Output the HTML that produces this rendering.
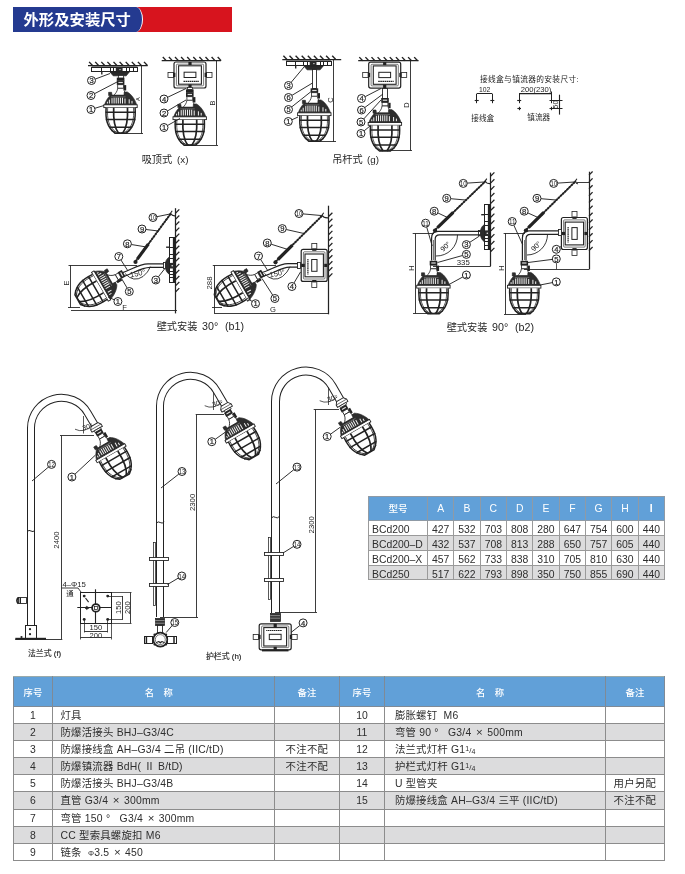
<!DOCTYPE html>
<html lang="zh-CN"><head><meta charset="utf-8"><title>外形及安装尺寸</title>
<style>
html,body{margin:0;padding:0;background:#fff}
body{width:685px;height:874px;position:relative;overflow:hidden;font-family:"Liberation Sans","Noto Sans CJK SC",sans-serif;color:#333}
.banner{position:absolute;left:13px;top:6.5px;width:218.5px;height:25px;background:#d7141e;overflow:hidden}
.banner .blue{position:absolute;left:0;top:0;width:128.5px;height:25px;background:#243a90;border-right:1.6px solid #fff;border-radius:0 7px 7px 0/0 12.5px 12.5px 0}
.banner .tt{position:absolute;left:10.5px;top:1.6px;line-height:24px;font-size:15.3px;font-weight:bold;color:#fff;white-space:nowrap;letter-spacing:.05px}
#page{position:absolute;left:0;top:0;width:685px;height:874px;will-change:transform;opacity:.999}
table{border-collapse:collapse;position:absolute;table-layout:fixed}
td,th{padding:0;overflow:hidden;white-space:nowrap;font-weight:normal}
.dim{left:368px;top:495.5px;width:297px;font-size:10.4px;color:#2e2e2e}
.dim td,.dim th{border:1px solid #9a9a9a;text-align:center}
.dim tr.h th{height:23.6px;background:#61a0d8;color:#fff;font-size:10.4px;border-color:#8f9aa5}
.dim tr.h th.m{font-size:9.6px;font-weight:500;text-align:center;padding-left:0}
.dim td{height:9.85px;line-height:9.85px;padding-top:4px;overflow:visible}
.dim .m{width:58px;text-align:left;padding-left:3px}
.dim tr.g td{background:#dcdcdd}
.parts{left:12.7px;top:676.3px;width:651.9px;font-size:10.4px;color:#2e2e2e}
.parts td,.parts th{border:1px solid #8c8c8c}
.parts tr.h th{height:27.3px;padding-top:1px;font-weight:500;background:#61a0d8;color:#fff;font-size:9.4px;border-color:#7f8a96;border-top-color:#9aa}
.parts td{height:15.15px;line-height:15.15px;padding-top:1px}
.parts tr.g td{background:#dcdcdd}
.parts .n{text-align:center}
.parts th.nm{text-indent:-9px}
.parts .t{padding-left:7.3px;letter-spacing:.22px}
.parts .t.rt{padding-left:10.2px}
.x{font-size:11.5px;line-height:0;padding:0 4.2px 0 4.6px}
.parts .r{text-align:center;letter-spacing:.3px}
.parts .c1{width:38.5px} .parts .c2{width:220.5px} .parts .c3{width:64.5px}
.parts .c4{width:43.5px;border-left:1.6px solid #333} .parts .c5{width:220px} .parts .c6{width:58.5px}
.fr{font-size:8px;letter-spacing:0;line-height:0} .fr sup{font-size:7px;vertical-align:2.4px;line-height:0} .fr sub{font-size:7px;vertical-align:-0.6px;line-height:0}
.ph{font-size:7.6px;line-height:0}
</style></head>
<body><div id="page">
<div class="banner"><div class="blue"></div><div class="tt">外形及安装尺寸</div></div>
<svg width="685" height="874" viewBox="0 0 685 874" style="position:absolute;left:0;top:0" font-family='"Liberation Sans","Noto Sans CJK SC",sans-serif'><line x1="88.0" y1="65.5" x2="147.7" y2="65.5" stroke="#222" stroke-width="1.25" />
<line x1="92.5" y1="65.5" x2="89.1" y2="61.9" stroke="#222" stroke-width="1.38" />
<line x1="98.6" y1="65.5" x2="95.2" y2="61.9" stroke="#222" stroke-width="1.38" />
<line x1="104.7" y1="65.5" x2="101.3" y2="61.9" stroke="#222" stroke-width="1.38" />
<line x1="110.8" y1="65.5" x2="107.4" y2="61.9" stroke="#222" stroke-width="1.38" />
<line x1="116.9" y1="65.5" x2="113.5" y2="61.9" stroke="#222" stroke-width="1.38" />
<line x1="123.0" y1="65.5" x2="119.6" y2="61.9" stroke="#222" stroke-width="1.38" />
<line x1="129.1" y1="65.5" x2="125.7" y2="61.9" stroke="#222" stroke-width="1.38" />
<line x1="135.2" y1="65.5" x2="131.8" y2="61.9" stroke="#222" stroke-width="1.38" />
<line x1="141.3" y1="65.5" x2="137.9" y2="61.9" stroke="#222" stroke-width="1.38" />
<line x1="147.4" y1="65.5" x2="144.0" y2="61.9" stroke="#222" stroke-width="1.38" />
<rect x="91.5" y="67.5" width="46.0" height="4.0" rx="0" fill="#fff" stroke="#222" stroke-width="1.0"/>
<line x1="91.7" y1="67.3" x2="137.5" y2="67.3" stroke="#222" stroke-width="1.5" />
<line x1="101.5" y1="67.0" x2="101.5" y2="71.6" stroke="#222" stroke-width="1.0" />
<line x1="110.5" y1="67.0" x2="110.5" y2="71.6" stroke="#222" stroke-width="1.0" />
<line x1="113.5" y1="67.0" x2="113.5" y2="71.6" stroke="#222" stroke-width="1.0" />
<line x1="126.5" y1="67.0" x2="126.5" y2="71.6" stroke="#222" stroke-width="1.0" />
<line x1="129.5" y1="67.0" x2="129.5" y2="71.6" stroke="#222" stroke-width="1.0" />
<line x1="133.5" y1="67.0" x2="133.5" y2="71.6" stroke="#222" stroke-width="1.0" />
<line x1="101.8" y1="71.6" x2="101.8" y2="74.6" stroke="#222" stroke-width="1.38" />
<rect x="115.8" y="67.0" width="6.8" height="4.8" fill="#2a2a2a"/>
<circle cx="120.0" cy="69.6" r=".7" fill="#eee"/>
<path d="M110.0 72.0 H129.3 L126.2 75.8 H113.2 Z" fill="#2a2a2a" stroke="#222" stroke-width="0.75" />
<rect x="118.5" y="75.5" width="5.0" height="3.0" rx="0" fill="#fff" stroke="#222" stroke-width="0.75"/>
<rect x="116.8" y="77.6" width="7.6" height="3" fill="#222"/>
<g transform="translate(120.6 80.3) rotate(0)"><rect x="-3.8" y="0" width="7.6" height="4.6" fill="#222"/>
  <rect x="-2.2" y="1.6" width="4.4" height="1.2" fill="#ddd"/>
  <rect x="-2.9" y="4.4" width="5.8" height="3.6" fill="#fff" stroke="#222" stroke-width=".8"/>
  <rect x="3.2" y="4.8" width="2.4" height="5.4" fill="#222"/>
  <path d="M-2.9 8 L2.9 8 C3.4 11.5 5 13 7 15.4 L-7 15.4 C-5 13 -3.4 11.5 -2.9 8 Z" fill="#fff" stroke="#222" stroke-width=".8"/>
  <path d="M-16.2 24.8 C-15 21 -12.8 17.4 -10.6 15.4 L-12 15.2 L-12 12 L-9 12 L-8.6 14.8 L3.4 14.8 L3.6 11.8 L6.6 11.6 C11 14 14.6 19.5 16.2 24.8 Z" fill="#2d2d2d" stroke="#222" stroke-width=".6"/>
  <path d="M-8.6 17.8V23.2M-6.5 17.4V23.2M-4.4 17.4V23.2M-2.3 17.4V23.2M-0.2 17.4V23.2M1.9 17.4V23.2M4.4 18.2V23.2M8.6 19V23.2M11.4 20.6V23.2M-11.2 19.4V23.2M-13.2 21.4V23.2" stroke="#f2f2f2" stroke-width="1" fill="none"/>
  <path d="M-9.5 16.6 H5" stroke="#999" stroke-width=".5" fill="none"/>
  <rect x="-16.8" y="24.5" width="33.4" height="2.8" fill="#fff" stroke="#222" stroke-width=".9"/>
  <path d="M-14.5 27.4 C-15.3 39 -13.6 47 -5.5 53 L5.5 53 C13.6 47 15.3 39 14.5 27.4" fill="#fff" stroke="#222" stroke-width="1.5"/>
  <path d="M-12.9 27.4 C-13.7 39 -12 46.4 -4.6 51.8 M12.9 27.4 C13.7 39 12 46.4 4.6 51.8" fill="none" stroke="#222" stroke-width=".75"/>
  <path d="M-6.9 27.4 C-7.4 38 -6.6 47 -2 53 M6.9 27.4 C7.4 38 6.6 47 2 53" fill="none" stroke="#222" stroke-width="1.7"/>
  <path d="M-14.9 32 H14.9 M-14.8 39.2 H14.8 M-11.6 47 H11.6" fill="none" stroke="#222" stroke-width="1.5"/>
  <path d="M-9.6 50.2 Q0 54.6 9.6 50.2" fill="none" stroke="#222" stroke-width=".9"/></g>
<line x1="141.5" y1="65.5" x2="141.5" y2="133.5" stroke="#222" stroke-width="0.88" />
<line x1="115.0" y1="133.5" x2="143.0" y2="133.5" stroke="#222" stroke-width="0.88" />
<text x="140.3" y="99.2" font-size="5.6" text-anchor="middle" fill="#262626" transform="rotate(-90 140.3 99.2)" >A</text>
<line x1="95.2" y1="79.1" x2="110.0" y2="73.5" stroke="#222" stroke-width="0.94" />
<circle cx="91.5" cy="80.5" r="4.0" fill="#fff" stroke="#222" stroke-width="1"/>
<text x="91.5" y="83.2" font-size="7.6" text-anchor="middle" fill="#222" stroke="#222" stroke-width=".2">3</text>
<line x1="94.5" y1="93.7" x2="117.0" y2="82.0" stroke="#222" stroke-width="0.94" />
<circle cx="91.0" cy="95.5" r="4.0" fill="#fff" stroke="#222" stroke-width="1"/>
<text x="91.0" y="98.2" font-size="7.6" text-anchor="middle" fill="#222" stroke="#222" stroke-width=".2">2</text>
<line x1="94.8" y1="108.3" x2="104.0" y2="105.5" stroke="#222" stroke-width="0.94" />
<circle cx="91.0" cy="109.5" r="4.0" fill="#fff" stroke="#222" stroke-width="1"/>
<text x="91.0" y="112.2" font-size="7.6" text-anchor="middle" fill="#222" stroke="#222" stroke-width=".2">1</text>
<line x1="161.7" y1="60.5" x2="221.0" y2="60.5" stroke="#222" stroke-width="1.25" />
<line x1="166.2" y1="60.6" x2="162.8" y2="57.0" stroke="#222" stroke-width="1.38" />
<line x1="172.3" y1="60.6" x2="168.9" y2="57.0" stroke="#222" stroke-width="1.38" />
<line x1="178.4" y1="60.6" x2="175.0" y2="57.0" stroke="#222" stroke-width="1.38" />
<line x1="184.5" y1="60.6" x2="181.1" y2="57.0" stroke="#222" stroke-width="1.38" />
<line x1="190.6" y1="60.6" x2="187.2" y2="57.0" stroke="#222" stroke-width="1.38" />
<line x1="196.7" y1="60.6" x2="193.3" y2="57.0" stroke="#222" stroke-width="1.38" />
<line x1="202.8" y1="60.6" x2="199.4" y2="57.0" stroke="#222" stroke-width="1.38" />
<line x1="208.9" y1="60.6" x2="205.5" y2="57.0" stroke="#222" stroke-width="1.38" />
<line x1="215.0" y1="60.6" x2="211.6" y2="57.0" stroke="#222" stroke-width="1.38" />
<line x1="221.1" y1="60.6" x2="217.7" y2="57.0" stroke="#222" stroke-width="1.38" />
<g transform="translate(190.0 75.0) rotate(0)"><rect x="-22" y="-2.6" width="6" height="5" fill="#fff" stroke="#222" stroke-width=".8"/>
  <rect x="16" y="-2.6" width="6" height="5" fill="#fff" stroke="#222" stroke-width=".8"/>
  <rect x="-16" y="-13" width="32" height="26" rx="2" fill="#fff" stroke="#222" stroke-width="1.2"/>
  <rect x="-13.6" y="-10.8" width="27.2" height="21.6" rx="1" fill="none" stroke="#222" stroke-width=".6"/>
  <rect x="-11.4" y="-9.2" width="22.8" height="18.4" fill="none" stroke="#222" stroke-width="1.1"/>
  <rect x="-5.9" y="-2.8" width="11.8" height="5.3" fill="#fff" stroke="#222" stroke-width="1"/>
  <line x1="-6.5" y1="6.3" x2="9" y2="6.3" stroke="#222" stroke-width="1.2" stroke-dasharray="1.6 .5"/>
  <rect x="-1.6" y="-13" width="3.2" height="3" fill="#222"/>
  <rect x="-1.6" y="9.4" width="3.2" height="3.6" fill="#222"/>
  <rect x="-17" y="-2.2" width="2.4" height="4.2" fill="#222"/>
  <rect x="14.6" y="-2.2" width="2.4" height="4.2" fill="#222"/></g>
<rect x="187.5" y="87.5" width="5.0" height="2.0" rx="0" fill="#fff" stroke="#222" stroke-width="0.75"/>
<rect x="186" y="89.4" width="7.6" height="3.2" fill="#222"/>
<g transform="translate(189.8 92.3) rotate(0)"><rect x="-3.8" y="0" width="7.6" height="4.6" fill="#222"/>
  <rect x="-2.2" y="1.6" width="4.4" height="1.2" fill="#ddd"/>
  <rect x="-2.9" y="4.4" width="5.8" height="3.6" fill="#fff" stroke="#222" stroke-width=".8"/>
  <rect x="3.2" y="4.8" width="2.4" height="5.4" fill="#222"/>
  <path d="M-2.9 8 L2.9 8 C3.4 11.5 5 13 7 15.4 L-7 15.4 C-5 13 -3.4 11.5 -2.9 8 Z" fill="#fff" stroke="#222" stroke-width=".8"/>
  <path d="M-16.2 24.8 C-15 21 -12.8 17.4 -10.6 15.4 L-12 15.2 L-12 12 L-9 12 L-8.6 14.8 L3.4 14.8 L3.6 11.8 L6.6 11.6 C11 14 14.6 19.5 16.2 24.8 Z" fill="#2d2d2d" stroke="#222" stroke-width=".6"/>
  <path d="M-8.6 17.8V23.2M-6.5 17.4V23.2M-4.4 17.4V23.2M-2.3 17.4V23.2M-0.2 17.4V23.2M1.9 17.4V23.2M4.4 18.2V23.2M8.6 19V23.2M11.4 20.6V23.2M-11.2 19.4V23.2M-13.2 21.4V23.2" stroke="#f2f2f2" stroke-width="1" fill="none"/>
  <path d="M-9.5 16.6 H5" stroke="#999" stroke-width=".5" fill="none"/>
  <rect x="-16.8" y="24.5" width="33.4" height="2.8" fill="#fff" stroke="#222" stroke-width=".9"/>
  <path d="M-14.5 27.4 C-15.3 39 -13.6 47 -5.5 53 L5.5 53 C13.6 47 15.3 39 14.5 27.4" fill="#fff" stroke="#222" stroke-width="1.5"/>
  <path d="M-12.9 27.4 C-13.7 39 -12 46.4 -4.6 51.8 M12.9 27.4 C13.7 39 12 46.4 4.6 51.8" fill="none" stroke="#222" stroke-width=".75"/>
  <path d="M-6.9 27.4 C-7.4 38 -6.6 47 -2 53 M6.9 27.4 C7.4 38 6.6 47 2 53" fill="none" stroke="#222" stroke-width="1.7"/>
  <path d="M-14.9 32 H14.9 M-14.8 39.2 H14.8 M-11.6 47 H11.6" fill="none" stroke="#222" stroke-width="1.5"/>
  <path d="M-9.6 50.2 Q0 54.6 9.6 50.2" fill="none" stroke="#222" stroke-width=".9"/></g>
<line x1="216.5" y1="60.6" x2="216.5" y2="145.0" stroke="#222" stroke-width="0.88" />
<line x1="185.0" y1="145.5" x2="218.0" y2="145.5" stroke="#222" stroke-width="0.88" />
<text x="215.4" y="103.0" font-size="7.4" text-anchor="middle" fill="#262626" transform="rotate(-90 215.4 103.0)" >B</text>
<line x1="167.6" y1="97.3" x2="186.0" y2="88.5" stroke="#222" stroke-width="0.94" />
<circle cx="164.0" cy="99.0" r="4.0" fill="#fff" stroke="#222" stroke-width="1"/>
<text x="164.0" y="101.7" font-size="7.6" text-anchor="middle" fill="#222" stroke="#222" stroke-width=".2">4</text>
<line x1="167.4" y1="111.0" x2="186.0" y2="100.0" stroke="#222" stroke-width="0.94" />
<circle cx="164.0" cy="113.0" r="4.0" fill="#fff" stroke="#222" stroke-width="1"/>
<text x="164.0" y="115.7" font-size="7.6" text-anchor="middle" fill="#222" stroke="#222" stroke-width=".2">2</text>
<line x1="167.5" y1="125.5" x2="180.0" y2="118.5" stroke="#222" stroke-width="0.94" />
<circle cx="164.0" cy="127.5" r="4.0" fill="#fff" stroke="#222" stroke-width="1"/>
<text x="164.0" y="130.2" font-size="7.6" text-anchor="middle" fill="#222" stroke="#222" stroke-width=".2">1</text>
<line x1="282.3" y1="59.5" x2="341.2" y2="59.5" stroke="#222" stroke-width="1.25" />
<line x1="286.8" y1="59.3" x2="283.4" y2="55.7" stroke="#222" stroke-width="1.38" />
<line x1="292.9" y1="59.3" x2="289.5" y2="55.7" stroke="#222" stroke-width="1.38" />
<line x1="299.0" y1="59.3" x2="295.6" y2="55.7" stroke="#222" stroke-width="1.38" />
<line x1="305.1" y1="59.3" x2="301.7" y2="55.7" stroke="#222" stroke-width="1.38" />
<line x1="311.2" y1="59.3" x2="307.8" y2="55.7" stroke="#222" stroke-width="1.38" />
<line x1="317.3" y1="59.3" x2="313.9" y2="55.7" stroke="#222" stroke-width="1.38" />
<line x1="323.4" y1="59.3" x2="320.0" y2="55.7" stroke="#222" stroke-width="1.38" />
<line x1="329.5" y1="59.3" x2="326.1" y2="55.7" stroke="#222" stroke-width="1.38" />
<line x1="335.6" y1="59.3" x2="332.2" y2="55.7" stroke="#222" stroke-width="1.38" />
<rect x="286.5" y="61.5" width="45.0" height="4.0" rx="0" fill="#fff" stroke="#222" stroke-width="1.0"/>
<line x1="286.0" y1="61.3" x2="331.0" y2="61.3" stroke="#222" stroke-width="1.5" />
<line x1="295.5" y1="61.0" x2="295.5" y2="65.6" stroke="#222" stroke-width="1.0" />
<line x1="303.5" y1="61.0" x2="303.5" y2="65.6" stroke="#222" stroke-width="1.0" />
<line x1="307.5" y1="61.0" x2="307.5" y2="65.6" stroke="#222" stroke-width="1.0" />
<line x1="320.5" y1="61.0" x2="320.5" y2="65.6" stroke="#222" stroke-width="1.0" />
<line x1="323.5" y1="61.0" x2="323.5" y2="65.6" stroke="#222" stroke-width="1.0" />
<line x1="327.5" y1="61.0" x2="327.5" y2="65.6" stroke="#222" stroke-width="1.0" />
<line x1="295.7" y1="65.6" x2="295.7" y2="68.6" stroke="#222" stroke-width="1.38" />
<rect x="309.7" y="61.0" width="6.8" height="4.8" fill="#2a2a2a"/>
<circle cx="313.9" cy="63.6" r=".7" fill="#eee"/>
<path d="M303.9 66.0 H323.2 L320.1 69.8 H307.1 Z" fill="#2a2a2a" stroke="#222" stroke-width="0.75" />
<rect x="312.5" y="69.5" width="4.0" height="19.0" rx="0" fill="#fff" stroke="#222" stroke-width="0.88"/>
<g transform="translate(314.4 88.3) rotate(0)"><rect x="-3.8" y="0" width="7.6" height="4.6" fill="#222"/>
  <rect x="-2.2" y="1.6" width="4.4" height="1.2" fill="#ddd"/>
  <rect x="-2.9" y="4.4" width="5.8" height="3.6" fill="#fff" stroke="#222" stroke-width=".8"/>
  <rect x="3.2" y="4.8" width="2.4" height="5.4" fill="#222"/>
  <path d="M-2.9 8 L2.9 8 C3.4 11.5 5 13 7 15.4 L-7 15.4 C-5 13 -3.4 11.5 -2.9 8 Z" fill="#fff" stroke="#222" stroke-width=".8"/>
  <path d="M-16.2 24.8 C-15 21 -12.8 17.4 -10.6 15.4 L-12 15.2 L-12 12 L-9 12 L-8.6 14.8 L3.4 14.8 L3.6 11.8 L6.6 11.6 C11 14 14.6 19.5 16.2 24.8 Z" fill="#2d2d2d" stroke="#222" stroke-width=".6"/>
  <path d="M-8.6 17.8V23.2M-6.5 17.4V23.2M-4.4 17.4V23.2M-2.3 17.4V23.2M-0.2 17.4V23.2M1.9 17.4V23.2M4.4 18.2V23.2M8.6 19V23.2M11.4 20.6V23.2M-11.2 19.4V23.2M-13.2 21.4V23.2" stroke="#f2f2f2" stroke-width="1" fill="none"/>
  <path d="M-9.5 16.6 H5" stroke="#999" stroke-width=".5" fill="none"/>
  <rect x="-16.8" y="24.5" width="33.4" height="2.8" fill="#fff" stroke="#222" stroke-width=".9"/>
  <path d="M-14.5 27.4 C-15.3 39 -13.6 47 -5.5 53 L5.5 53 C13.6 47 15.3 39 14.5 27.4" fill="#fff" stroke="#222" stroke-width="1.5"/>
  <path d="M-12.9 27.4 C-13.7 39 -12 46.4 -4.6 51.8 M12.9 27.4 C13.7 39 12 46.4 4.6 51.8" fill="none" stroke="#222" stroke-width=".75"/>
  <path d="M-6.9 27.4 C-7.4 38 -6.6 47 -2 53 M6.9 27.4 C7.4 38 6.6 47 2 53" fill="none" stroke="#222" stroke-width="1.7"/>
  <path d="M-14.9 32 H14.9 M-14.8 39.2 H14.8 M-11.6 47 H11.6" fill="none" stroke="#222" stroke-width="1.5"/>
  <path d="M-9.6 50.2 Q0 54.6 9.6 50.2" fill="none" stroke="#222" stroke-width=".9"/></g>
<line x1="333.5" y1="59.3" x2="333.5" y2="141.7" stroke="#222" stroke-width="0.88" />
<line x1="309.0" y1="141.5" x2="336.0" y2="141.5" stroke="#222" stroke-width="0.88" />
<text x="332.9" y="100.0" font-size="7.4" text-anchor="middle" fill="#262626" transform="rotate(-90 332.9 100.0)" >C</text>
<line x1="291.1" y1="82.4" x2="304.0" y2="67.0" stroke="#222" stroke-width="0.94" />
<circle cx="288.5" cy="85.5" r="4.0" fill="#fff" stroke="#222" stroke-width="1"/>
<text x="288.5" y="88.2" font-size="7.6" text-anchor="middle" fill="#222" stroke="#222" stroke-width=".2">3</text>
<line x1="291.9" y1="95.4" x2="312.5" y2="83.0" stroke="#222" stroke-width="0.94" />
<circle cx="288.5" cy="97.5" r="4.0" fill="#fff" stroke="#222" stroke-width="1"/>
<text x="288.5" y="100.2" font-size="7.6" text-anchor="middle" fill="#222" stroke="#222" stroke-width=".2">6</text>
<line x1="291.6" y1="107.0" x2="310.5" y2="92.0" stroke="#222" stroke-width="0.94" />
<circle cx="288.5" cy="109.5" r="4.0" fill="#fff" stroke="#222" stroke-width="1"/>
<text x="288.5" y="112.2" font-size="7.6" text-anchor="middle" fill="#222" stroke="#222" stroke-width=".2">5</text>
<line x1="291.9" y1="119.8" x2="298.0" y2="117.0" stroke="#222" stroke-width="0.94" />
<circle cx="288.3" cy="121.5" r="4.0" fill="#fff" stroke="#222" stroke-width="1"/>
<text x="288.3" y="124.2" font-size="7.6" text-anchor="middle" fill="#222" stroke="#222" stroke-width=".2">1</text>
<line x1="358.2" y1="60.5" x2="418.6" y2="60.5" stroke="#222" stroke-width="1.25" />
<line x1="362.7" y1="60.7" x2="359.3" y2="57.1" stroke="#222" stroke-width="1.38" />
<line x1="368.8" y1="60.7" x2="365.4" y2="57.1" stroke="#222" stroke-width="1.38" />
<line x1="374.9" y1="60.7" x2="371.5" y2="57.1" stroke="#222" stroke-width="1.38" />
<line x1="381.0" y1="60.7" x2="377.6" y2="57.1" stroke="#222" stroke-width="1.38" />
<line x1="387.1" y1="60.7" x2="383.7" y2="57.1" stroke="#222" stroke-width="1.38" />
<line x1="393.2" y1="60.7" x2="389.8" y2="57.1" stroke="#222" stroke-width="1.38" />
<line x1="399.3" y1="60.7" x2="395.9" y2="57.1" stroke="#222" stroke-width="1.38" />
<line x1="405.4" y1="60.7" x2="402.0" y2="57.1" stroke="#222" stroke-width="1.38" />
<line x1="411.5" y1="60.7" x2="408.1" y2="57.1" stroke="#222" stroke-width="1.38" />
<line x1="417.6" y1="60.7" x2="414.2" y2="57.1" stroke="#222" stroke-width="1.38" />
<g transform="translate(384.7 75.1) rotate(0)"><rect x="-22" y="-2.6" width="6" height="5" fill="#fff" stroke="#222" stroke-width=".8"/>
  <rect x="16" y="-2.6" width="6" height="5" fill="#fff" stroke="#222" stroke-width=".8"/>
  <rect x="-16" y="-13" width="32" height="26" rx="2" fill="#fff" stroke="#222" stroke-width="1.2"/>
  <rect x="-13.6" y="-10.8" width="27.2" height="21.6" rx="1" fill="none" stroke="#222" stroke-width=".6"/>
  <rect x="-11.4" y="-9.2" width="22.8" height="18.4" fill="none" stroke="#222" stroke-width="1.1"/>
  <rect x="-5.9" y="-2.8" width="11.8" height="5.3" fill="#fff" stroke="#222" stroke-width="1"/>
  <line x1="-6.5" y1="6.3" x2="9" y2="6.3" stroke="#222" stroke-width="1.2" stroke-dasharray="1.6 .5"/>
  <rect x="-1.6" y="-13" width="3.2" height="3" fill="#222"/>
  <rect x="-1.6" y="9.4" width="3.2" height="3.6" fill="#222"/>
  <rect x="-17" y="-2.2" width="2.4" height="4.2" fill="#222"/>
  <rect x="14.6" y="-2.2" width="2.4" height="4.2" fill="#222"/></g>
<rect x="382.5" y="88.5" width="5.0" height="10.0" rx="0" fill="#fff" stroke="#222" stroke-width="0.88"/>
<g transform="translate(385.0 98.0) rotate(0)"><rect x="-3.8" y="0" width="7.6" height="4.6" fill="#222"/>
  <rect x="-2.2" y="1.6" width="4.4" height="1.2" fill="#ddd"/>
  <rect x="-2.9" y="4.4" width="5.8" height="3.6" fill="#fff" stroke="#222" stroke-width=".8"/>
  <rect x="3.2" y="4.8" width="2.4" height="5.4" fill="#222"/>
  <path d="M-2.9 8 L2.9 8 C3.4 11.5 5 13 7 15.4 L-7 15.4 C-5 13 -3.4 11.5 -2.9 8 Z" fill="#fff" stroke="#222" stroke-width=".8"/>
  <path d="M-16.2 24.8 C-15 21 -12.8 17.4 -10.6 15.4 L-12 15.2 L-12 12 L-9 12 L-8.6 14.8 L3.4 14.8 L3.6 11.8 L6.6 11.6 C11 14 14.6 19.5 16.2 24.8 Z" fill="#2d2d2d" stroke="#222" stroke-width=".6"/>
  <path d="M-8.6 17.8V23.2M-6.5 17.4V23.2M-4.4 17.4V23.2M-2.3 17.4V23.2M-0.2 17.4V23.2M1.9 17.4V23.2M4.4 18.2V23.2M8.6 19V23.2M11.4 20.6V23.2M-11.2 19.4V23.2M-13.2 21.4V23.2" stroke="#f2f2f2" stroke-width="1" fill="none"/>
  <path d="M-9.5 16.6 H5" stroke="#999" stroke-width=".5" fill="none"/>
  <rect x="-16.8" y="24.5" width="33.4" height="2.8" fill="#fff" stroke="#222" stroke-width=".9"/>
  <path d="M-14.5 27.4 C-15.3 39 -13.6 47 -5.5 53 L5.5 53 C13.6 47 15.3 39 14.5 27.4" fill="#fff" stroke="#222" stroke-width="1.5"/>
  <path d="M-12.9 27.4 C-13.7 39 -12 46.4 -4.6 51.8 M12.9 27.4 C13.7 39 12 46.4 4.6 51.8" fill="none" stroke="#222" stroke-width=".75"/>
  <path d="M-6.9 27.4 C-7.4 38 -6.6 47 -2 53 M6.9 27.4 C7.4 38 6.6 47 2 53" fill="none" stroke="#222" stroke-width="1.7"/>
  <path d="M-14.9 32 H14.9 M-14.8 39.2 H14.8 M-11.6 47 H11.6" fill="none" stroke="#222" stroke-width="1.5"/>
  <path d="M-9.6 50.2 Q0 54.6 9.6 50.2" fill="none" stroke="#222" stroke-width=".9"/></g>
<line x1="410.5" y1="60.7" x2="410.5" y2="150.6" stroke="#222" stroke-width="0.88" />
<line x1="380.0" y1="150.5" x2="412.0" y2="150.5" stroke="#222" stroke-width="0.88" />
<text x="409.4" y="105.0" font-size="7.4" text-anchor="middle" fill="#262626" transform="rotate(-90 409.4 105.0)" >D</text>
<line x1="365.1" y1="96.7" x2="381.0" y2="88.5" stroke="#222" stroke-width="0.94" />
<circle cx="361.5" cy="98.5" r="4.0" fill="#fff" stroke="#222" stroke-width="1"/>
<text x="361.5" y="101.2" font-size="7.6" text-anchor="middle" fill="#222" stroke="#222" stroke-width=".2">4</text>
<line x1="364.7" y1="107.6" x2="383.0" y2="94.0" stroke="#222" stroke-width="0.94" />
<circle cx="361.5" cy="110.0" r="4.0" fill="#fff" stroke="#222" stroke-width="1"/>
<text x="361.5" y="112.7" font-size="7.6" text-anchor="middle" fill="#222" stroke="#222" stroke-width=".2">6</text>
<line x1="363.7" y1="119.0" x2="381.0" y2="100.0" stroke="#222" stroke-width="0.94" />
<circle cx="361.0" cy="122.0" r="4.0" fill="#fff" stroke="#222" stroke-width="1"/>
<text x="361.0" y="124.7" font-size="7.6" text-anchor="middle" fill="#222" stroke="#222" stroke-width=".2">5</text>
<line x1="364.1" y1="130.9" x2="370.0" y2="126.0" stroke="#222" stroke-width="0.94" />
<circle cx="361.0" cy="133.5" r="4.0" fill="#fff" stroke="#222" stroke-width="1"/>
<text x="361.0" y="136.2" font-size="7.6" text-anchor="middle" fill="#222" stroke="#222" stroke-width=".2">1</text>
<text x="480.0" y="82.2" font-size="7.7" text-anchor="start" fill="#262626" textLength="98.6" lengthAdjust="spacing">接线盒与镇流器的安装尺寸:</text>
<text x="484.7" y="92.2" font-size="6.8" text-anchor="middle" fill="#262626" >102</text>
<line x1="476.7" y1="93.5" x2="492.3" y2="93.5" stroke="#222" stroke-width="1.0" />
<line x1="476.5" y1="93.9" x2="476.5" y2="103.2" stroke="#222" stroke-width="1.0" />
<line x1="474.7" y1="100.5" x2="478.7" y2="100.5" stroke="#222" stroke-width="1.12" />
<line x1="492.5" y1="93.9" x2="492.5" y2="103.2" stroke="#222" stroke-width="1.0" />
<line x1="490.3" y1="100.5" x2="494.3" y2="100.5" stroke="#222" stroke-width="1.12" />
<text x="536.1" y="92.3" font-size="7.3" text-anchor="middle" fill="#262626" textLength="30.6" lengthAdjust="spacingAndGlyphs">200(230)</text>
<line x1="519.0" y1="93.5" x2="551.8" y2="93.5" stroke="#222" stroke-width="1.25" />
<line x1="519.5" y1="94.0" x2="519.5" y2="103.2" stroke="#222" stroke-width="1.0" />
<line x1="517.2" y1="100.5" x2="521.2" y2="100.5" stroke="#222" stroke-width="1.12" />
<line x1="517.4" y1="108.5" x2="521.0" y2="108.5" stroke="#222" stroke-width="1.12" />
<line x1="519.5" y1="106.8" x2="519.5" y2="110.2" stroke="#222" stroke-width="1.12" />
<line x1="551.5" y1="91.5" x2="551.5" y2="103.2" stroke="#222" stroke-width="1.0" />
<line x1="549.5" y1="100.5" x2="562.5" y2="100.5" stroke="#222" stroke-width="1.0" />
<line x1="549.5" y1="108.5" x2="562.5" y2="108.5" stroke="#222" stroke-width="1.0" />
<line x1="551.5" y1="106.8" x2="551.5" y2="110.2" stroke="#222" stroke-width="1.12" />
<line x1="559.5" y1="94.7" x2="559.5" y2="114.6" stroke="#222" stroke-width="1.12" />
<text x="558.3" y="104.6" font-size="7.4" text-anchor="middle" fill="#262626" transform="rotate(-90 558.3 104.6)" >50</text>
<text x="482.7" y="121.2" font-size="7.6" text-anchor="middle" fill="#262626" >接线盒</text>
<text x="538.7" y="119.8" font-size="7.6" text-anchor="middle" fill="#262626" >镇流器</text>
<line x1="175.5" y1="208.2" x2="175.5" y2="313.4" stroke="#222" stroke-width="1.25" />
<line x1="175.7" y1="213.0" x2="179.3" y2="209.4" stroke="#222" stroke-width="1.25" />
<line x1="175.7" y1="219.1" x2="179.3" y2="215.5" stroke="#222" stroke-width="1.25" />
<line x1="175.7" y1="225.1" x2="179.3" y2="221.5" stroke="#222" stroke-width="1.25" />
<line x1="175.7" y1="231.2" x2="179.3" y2="227.6" stroke="#222" stroke-width="1.25" />
<line x1="175.7" y1="237.2" x2="179.3" y2="233.6" stroke="#222" stroke-width="1.25" />
<line x1="175.7" y1="243.3" x2="179.3" y2="239.7" stroke="#222" stroke-width="1.25" />
<line x1="175.7" y1="249.3" x2="179.3" y2="245.7" stroke="#222" stroke-width="1.25" />
<line x1="175.7" y1="255.4" x2="179.3" y2="251.8" stroke="#222" stroke-width="1.25" />
<line x1="175.7" y1="261.4" x2="179.3" y2="257.8" stroke="#222" stroke-width="1.25" />
<line x1="175.7" y1="267.5" x2="179.3" y2="263.9" stroke="#222" stroke-width="1.25" />
<line x1="175.7" y1="273.5" x2="179.3" y2="269.9" stroke="#222" stroke-width="1.25" />
<line x1="175.7" y1="279.6" x2="179.3" y2="276.0" stroke="#222" stroke-width="1.25" />
<line x1="175.7" y1="285.6" x2="179.3" y2="282.0" stroke="#222" stroke-width="1.25" />
<line x1="175.7" y1="291.7" x2="179.3" y2="288.1" stroke="#222" stroke-width="1.25" />
<rect x="169.5" y="237.5" width="5.0" height="45.0" rx="0" fill="#fff" stroke="#222" stroke-width="1.0"/>
<line x1="173.5" y1="237.0" x2="173.5" y2="282.5" stroke="#222" stroke-width="1.25" />
<line x1="169.7" y1="247.5" x2="174.4" y2="247.5" stroke="#222" stroke-width="1.0" />
<line x1="169.7" y1="254.5" x2="174.4" y2="254.5" stroke="#222" stroke-width="1.0" />
<line x1="169.7" y1="258.5" x2="174.4" y2="258.5" stroke="#222" stroke-width="1.0" />
<line x1="169.7" y1="271.5" x2="174.4" y2="271.5" stroke="#222" stroke-width="1.0" />
<line x1="169.7" y1="274.5" x2="174.4" y2="274.5" stroke="#222" stroke-width="1.0" />
<line x1="169.7" y1="277.5" x2="174.4" y2="277.5" stroke="#222" stroke-width="1.0" />
<line x1="166.1" y1="247.2" x2="169.7" y2="247.2" stroke="#222" stroke-width="1.38" />
<rect x="169.7" y="262.9" width="4.7" height="5.6" fill="#2a2a2a"/>
<circle cx="172.2" cy="265.8" r=".8" fill="#eee"/>
<path d="M169.5 256.9 V274.5 Q165.1 271.5 165.3 265.5 Q165.1 259.5 169.5 256.9 Z" fill="#2a2a2a" stroke="#222" stroke-width="0.75" />
<rect x="163.5" y="262.5" width="2.0" height="6.0" rx="0" fill="#fff" stroke="#222" stroke-width="0.88"/>
<line x1="68.5" y1="265.5" x2="137.0" y2="265.5" stroke="#222" stroke-width="0.88" />
<path d="M163.5 263.8 H148 C139 264 132 269.4 122.5 272.6 M163.5 267.3 H150 C141 267.6 134 273 124.4 276.2" fill="none" stroke="#222" stroke-width="1.19" />
<path d="M125.0 273.5 Q133.5 283.0 143.0 276.5 Q148.0 272.5 150.5 266.7" fill="none" stroke="#222" stroke-width="0.88" />
<text x="138.3" y="275.9" font-size="7.6" text-anchor="middle" fill="#262626" transform="rotate(-12 138.3 275.9)" >150°</text>
<g transform="translate(123.6 273.2) rotate(60)"><rect x="-3.8" y="0" width="7.6" height="4.6" fill="#222"/>
  <rect x="-2.2" y="1.6" width="4.4" height="1.2" fill="#ddd"/>
  <rect x="-2.9" y="4.4" width="5.8" height="3.6" fill="#fff" stroke="#222" stroke-width=".8"/>
  <rect x="3.2" y="4.8" width="2.4" height="5.4" fill="#222"/>
  <path d="M-2.9 8 L2.9 8 C3.4 11.5 5 13 7 15.4 L-7 15.4 C-5 13 -3.4 11.5 -2.9 8 Z" fill="#fff" stroke="#222" stroke-width=".8"/>
  <path d="M-16.2 24.8 C-15 21 -12.8 17.4 -10.6 15.4 L-12 15.2 L-12 12 L-9 12 L-8.6 14.8 L3.4 14.8 L3.6 11.8 L6.6 11.6 C11 14 14.6 19.5 16.2 24.8 Z" fill="#2d2d2d" stroke="#222" stroke-width=".6"/>
  <path d="M-8.6 17.8V23.2M-6.5 17.4V23.2M-4.4 17.4V23.2M-2.3 17.4V23.2M-0.2 17.4V23.2M1.9 17.4V23.2M4.4 18.2V23.2M8.6 19V23.2M11.4 20.6V23.2M-11.2 19.4V23.2M-13.2 21.4V23.2" stroke="#f2f2f2" stroke-width="1" fill="none"/>
  <path d="M-9.5 16.6 H5" stroke="#999" stroke-width=".5" fill="none"/>
  <rect x="-16.8" y="24.5" width="33.4" height="2.8" fill="#fff" stroke="#222" stroke-width=".9"/>
  <path d="M-14.5 27.4 C-15.3 39 -13.6 47 -5.5 53 L5.5 53 C13.6 47 15.3 39 14.5 27.4" fill="#fff" stroke="#222" stroke-width="1.5"/>
  <path d="M-12.9 27.4 C-13.7 39 -12 46.4 -4.6 51.8 M12.9 27.4 C13.7 39 12 46.4 4.6 51.8" fill="none" stroke="#222" stroke-width=".75"/>
  <path d="M-6.9 27.4 C-7.4 38 -6.6 47 -2 53 M6.9 27.4 C7.4 38 6.6 47 2 53" fill="none" stroke="#222" stroke-width="1.7"/>
  <path d="M-14.9 32 H14.9 M-14.8 39.2 H14.8 M-11.6 47 H11.6" fill="none" stroke="#222" stroke-width="1.5"/>
  <path d="M-9.6 50.2 Q0 54.6 9.6 50.2" fill="none" stroke="#222" stroke-width=".9"/></g>
<line x1="135.5" y1="261.5" x2="171.0" y2="213.3" stroke="#222" stroke-width="1.12" />
<line x1="135.5" y1="261.5" x2="171.0" y2="213.3" stroke="#222" stroke-width="1.94" stroke-dasharray="2.3 0.7"/>
<line x1="137.3" y1="259.1" x2="148.3" y2="244.1" stroke="#222" stroke-width="3.25" />
<circle cx="135.5" cy="262.0" r="2.1" fill="#222"/>
<path d="M169.5 214.8 L172.2 210.8 M171.0 213.8 Q172.0 216.3 175.7 215.8" fill="none" stroke="#222" stroke-width="1.12" />
<line x1="70.5" y1="265.2" x2="70.5" y2="308.0" stroke="#222" stroke-width="0.88" />
<line x1="68.0" y1="307.5" x2="80.0" y2="307.5" stroke="#222" stroke-width="0.88" />
<text x="69.2" y="283.0" font-size="7.4" text-anchor="middle" fill="#262626" transform="rotate(-90 69.2 283.0)" >E</text>
<line x1="71.0" y1="310.5" x2="177.0" y2="310.5" stroke="#222" stroke-width="0.88" />
<text x="124.5" y="309.8" font-size="7.6" text-anchor="middle" fill="#262626" >F</text>
<line x1="156.9" y1="216.7" x2="170.0" y2="214.0" stroke="#222" stroke-width="0.94" />
<circle cx="153.0" cy="217.5" r="4.0" fill="#fff" stroke="#222" stroke-width="1"/>
<text x="153.0" y="220.0" font-size="7" text-anchor="middle" fill="#222" textLength="6.6" lengthAdjust="spacingAndGlyphs">10</text>
<line x1="146.0" y1="229.5" x2="158.5" y2="231.0" stroke="#222" stroke-width="0.94" />
<circle cx="142.0" cy="229.0" r="4.0" fill="#fff" stroke="#222" stroke-width="1"/>
<text x="142.0" y="231.7" font-size="7.6" text-anchor="middle" fill="#222" stroke="#222" stroke-width=".2">9</text>
<line x1="131.3" y1="244.5" x2="146.5" y2="247.0" stroke="#222" stroke-width="0.94" />
<circle cx="127.4" cy="243.8" r="4.0" fill="#fff" stroke="#222" stroke-width="1"/>
<text x="127.4" y="246.5" font-size="7.6" text-anchor="middle" fill="#222" stroke="#222" stroke-width=".2">8</text>
<line x1="120.9" y1="259.9" x2="128.0" y2="271.0" stroke="#222" stroke-width="0.94" />
<circle cx="118.8" cy="256.5" r="4.0" fill="#fff" stroke="#222" stroke-width="1"/>
<text x="118.8" y="259.2" font-size="7.6" text-anchor="middle" fill="#222" stroke="#222" stroke-width=".2">7</text>
<line x1="158.3" y1="276.9" x2="164.5" y2="269.0" stroke="#222" stroke-width="0.94" />
<circle cx="155.8" cy="280.0" r="4.0" fill="#fff" stroke="#222" stroke-width="1"/>
<text x="155.8" y="282.7" font-size="7.6" text-anchor="middle" fill="#222" stroke="#222" stroke-width=".2">3</text>
<line x1="127.2" y1="288.1" x2="121.5" y2="278.5" stroke="#222" stroke-width="0.94" />
<circle cx="129.3" cy="291.5" r="4.0" fill="#fff" stroke="#222" stroke-width="1"/>
<text x="129.3" y="294.2" font-size="7.6" text-anchor="middle" fill="#222" stroke="#222" stroke-width=".2">5</text>
<line x1="114.3" y1="299.8" x2="108.0" y2="297.0" stroke="#222" stroke-width="0.94" />
<circle cx="117.9" cy="301.5" r="4.0" fill="#fff" stroke="#222" stroke-width="1"/>
<text x="117.9" y="304.2" font-size="7.6" text-anchor="middle" fill="#222" stroke="#222" stroke-width=".2">1</text>
<line x1="328.5" y1="205.7" x2="328.5" y2="314.3" stroke="#222" stroke-width="1.25" />
<line x1="328.8" y1="216.3" x2="332.4" y2="212.7" stroke="#222" stroke-width="1.25" />
<line x1="328.8" y1="222.4" x2="332.4" y2="218.8" stroke="#222" stroke-width="1.25" />
<line x1="328.8" y1="228.4" x2="332.4" y2="224.8" stroke="#222" stroke-width="1.25" />
<line x1="328.8" y1="234.5" x2="332.4" y2="230.9" stroke="#222" stroke-width="1.25" />
<line x1="328.8" y1="240.6" x2="332.4" y2="237.0" stroke="#222" stroke-width="1.25" />
<line x1="328.8" y1="246.6" x2="332.4" y2="243.0" stroke="#222" stroke-width="1.25" />
<line x1="328.8" y1="252.7" x2="332.4" y2="249.1" stroke="#222" stroke-width="1.25" />
<line x1="328.8" y1="258.8" x2="332.4" y2="255.2" stroke="#222" stroke-width="1.25" />
<line x1="328.8" y1="264.9" x2="332.4" y2="261.3" stroke="#222" stroke-width="1.25" />
<line x1="328.8" y1="270.9" x2="332.4" y2="267.3" stroke="#222" stroke-width="1.25" />
<line x1="328.8" y1="277.0" x2="332.4" y2="273.4" stroke="#222" stroke-width="1.25" />
<g transform="translate(314.2 265.4) rotate(90)"><rect x="-22" y="-2.6" width="6" height="5" fill="#fff" stroke="#222" stroke-width=".8"/>
  <rect x="16" y="-2.6" width="6" height="5" fill="#fff" stroke="#222" stroke-width=".8"/>
  <rect x="-16" y="-13" width="32" height="26" rx="2" fill="#fff" stroke="#222" stroke-width="1.2"/>
  <rect x="-13.6" y="-10.8" width="27.2" height="21.6" rx="1" fill="none" stroke="#222" stroke-width=".6"/>
  <rect x="-11.4" y="-9.2" width="22.8" height="18.4" fill="none" stroke="#222" stroke-width="1.1"/>
  <rect x="-5.9" y="-2.8" width="11.8" height="5.3" fill="#fff" stroke="#222" stroke-width="1"/>
  <line x1="-6.5" y1="6.3" x2="9" y2="6.3" stroke="#222" stroke-width="1.2" stroke-dasharray="1.6 .5"/>
  <rect x="-1.6" y="-13" width="3.2" height="3" fill="#222"/>
  <rect x="-1.6" y="9.4" width="3.2" height="3.6" fill="#222"/>
  <rect x="-17" y="-2.2" width="2.4" height="4.2" fill="#222"/>
  <rect x="14.6" y="-2.2" width="2.4" height="4.2" fill="#222"/></g>
<line x1="212.8" y1="265.5" x2="276.0" y2="265.5" stroke="#222" stroke-width="0.88" />
<path d="M298 263.7 H288 C279 263.9 272 269.3 262 272.5 M298 267.2 H290 C281 267.5 274 272.9 263.9 276.1" fill="none" stroke="#222" stroke-width="1.19" />
<rect x="297.5" y="262.5" width="3.0" height="6.0" rx="0" fill="#fff" stroke="#222" stroke-width="0.88"/>
<path d="M264.5 273.5 Q273.0 283.0 282.5 276.5 Q287.5 272.5 290.0 266.7" fill="none" stroke="#222" stroke-width="0.88" />
<text x="277.8" y="275.9" font-size="7.6" text-anchor="middle" fill="#262626" transform="rotate(-12 277.8 275.9)" >150°</text>
<g transform="translate(263.0 273.0) rotate(60)"><rect x="-3.8" y="0" width="7.6" height="4.6" fill="#222"/>
  <rect x="-2.2" y="1.6" width="4.4" height="1.2" fill="#ddd"/>
  <rect x="-2.9" y="4.4" width="5.8" height="3.6" fill="#fff" stroke="#222" stroke-width=".8"/>
  <rect x="3.2" y="4.8" width="2.4" height="5.4" fill="#222"/>
  <path d="M-2.9 8 L2.9 8 C3.4 11.5 5 13 7 15.4 L-7 15.4 C-5 13 -3.4 11.5 -2.9 8 Z" fill="#fff" stroke="#222" stroke-width=".8"/>
  <path d="M-16.2 24.8 C-15 21 -12.8 17.4 -10.6 15.4 L-12 15.2 L-12 12 L-9 12 L-8.6 14.8 L3.4 14.8 L3.6 11.8 L6.6 11.6 C11 14 14.6 19.5 16.2 24.8 Z" fill="#2d2d2d" stroke="#222" stroke-width=".6"/>
  <path d="M-8.6 17.8V23.2M-6.5 17.4V23.2M-4.4 17.4V23.2M-2.3 17.4V23.2M-0.2 17.4V23.2M1.9 17.4V23.2M4.4 18.2V23.2M8.6 19V23.2M11.4 20.6V23.2M-11.2 19.4V23.2M-13.2 21.4V23.2" stroke="#f2f2f2" stroke-width="1" fill="none"/>
  <path d="M-9.5 16.6 H5" stroke="#999" stroke-width=".5" fill="none"/>
  <rect x="-16.8" y="24.5" width="33.4" height="2.8" fill="#fff" stroke="#222" stroke-width=".9"/>
  <path d="M-14.5 27.4 C-15.3 39 -13.6 47 -5.5 53 L5.5 53 C13.6 47 15.3 39 14.5 27.4" fill="#fff" stroke="#222" stroke-width="1.5"/>
  <path d="M-12.9 27.4 C-13.7 39 -12 46.4 -4.6 51.8 M12.9 27.4 C13.7 39 12 46.4 4.6 51.8" fill="none" stroke="#222" stroke-width=".75"/>
  <path d="M-6.9 27.4 C-7.4 38 -6.6 47 -2 53 M6.9 27.4 C7.4 38 6.6 47 2 53" fill="none" stroke="#222" stroke-width="1.7"/>
  <path d="M-14.9 32 H14.9 M-14.8 39.2 H14.8 M-11.6 47 H11.6" fill="none" stroke="#222" stroke-width="1.5"/>
  <path d="M-9.6 50.2 Q0 54.6 9.6 50.2" fill="none" stroke="#222" stroke-width=".9"/></g>
<line x1="275.5" y1="261.8" x2="322.5" y2="215.3" stroke="#222" stroke-width="1.12" />
<line x1="275.5" y1="261.8" x2="322.5" y2="215.3" stroke="#222" stroke-width="1.94" stroke-dasharray="2.3 0.7"/>
<line x1="277.9" y1="259.5" x2="292.4" y2="245.1" stroke="#222" stroke-width="3.25" />
<circle cx="275.5" cy="262.3" r="2.1" fill="#222"/>
<path d="M321.0 216.8 L323.7 212.8 M322.5 215.8 Q323.5 218.3 329.0 217.8" fill="none" stroke="#222" stroke-width="1.12" />
<line x1="214.5" y1="265.2" x2="214.5" y2="313.0" stroke="#222" stroke-width="0.88" />
<line x1="212.0" y1="307.5" x2="222.0" y2="307.5" stroke="#222" stroke-width="0.88" />
<text x="212.4" y="283.0" font-size="7.8" text-anchor="middle" fill="#262626" transform="rotate(-90 212.4 283.0)" >288</text>
<line x1="214.0" y1="313.5" x2="329.0" y2="313.5" stroke="#222" stroke-width="0.88" />
<text x="273.0" y="312.2" font-size="7.6" text-anchor="middle" fill="#262626" >G</text>
<line x1="303.0" y1="213.9" x2="321.0" y2="215.5" stroke="#222" stroke-width="0.94" />
<circle cx="299.0" cy="213.5" r="4.0" fill="#fff" stroke="#222" stroke-width="1"/>
<text x="299.0" y="216.0" font-size="7" text-anchor="middle" fill="#222" textLength="6.6" lengthAdjust="spacingAndGlyphs">10</text>
<line x1="286.2" y1="229.5" x2="304.0" y2="233.5" stroke="#222" stroke-width="0.94" />
<circle cx="282.3" cy="228.6" r="4.0" fill="#fff" stroke="#222" stroke-width="1"/>
<text x="282.3" y="231.3" font-size="7.6" text-anchor="middle" fill="#222" stroke="#222" stroke-width=".2">9</text>
<line x1="271.1" y1="244.2" x2="288.0" y2="249.5" stroke="#222" stroke-width="0.94" />
<circle cx="267.3" cy="243.0" r="4.0" fill="#fff" stroke="#222" stroke-width="1"/>
<text x="267.3" y="245.7" font-size="7.6" text-anchor="middle" fill="#222" stroke="#222" stroke-width=".2">8</text>
<line x1="260.6" y1="259.4" x2="268.0" y2="271.0" stroke="#222" stroke-width="0.94" />
<circle cx="258.5" cy="256.0" r="4.0" fill="#fff" stroke="#222" stroke-width="1"/>
<text x="258.5" y="258.7" font-size="7.6" text-anchor="middle" fill="#222" stroke="#222" stroke-width=".2">7</text>
<line x1="293.9" y1="283.1" x2="300.5" y2="272.0" stroke="#222" stroke-width="0.94" />
<circle cx="291.9" cy="286.5" r="4.0" fill="#fff" stroke="#222" stroke-width="1"/>
<text x="291.9" y="289.2" font-size="7.6" text-anchor="middle" fill="#222" stroke="#222" stroke-width=".2">4</text>
<line x1="272.7" y1="295.1" x2="262.0" y2="278.5" stroke="#222" stroke-width="0.94" />
<circle cx="274.9" cy="298.5" r="4.0" fill="#fff" stroke="#222" stroke-width="1"/>
<text x="274.9" y="301.2" font-size="7.6" text-anchor="middle" fill="#222" stroke="#222" stroke-width=".2">5</text>
<line x1="252.2" y1="301.5" x2="247.0" y2="298.0" stroke="#222" stroke-width="0.94" />
<circle cx="255.5" cy="303.7" r="4.0" fill="#fff" stroke="#222" stroke-width="1"/>
<text x="255.5" y="306.4" font-size="7.6" text-anchor="middle" fill="#222" stroke="#222" stroke-width=".2">1</text>
<line x1="490.5" y1="172.6" x2="490.5" y2="266.0" stroke="#222" stroke-width="1.25" />
<line x1="490.8" y1="176.0" x2="494.4" y2="172.4" stroke="#222" stroke-width="1.25" />
<line x1="490.8" y1="182.9" x2="494.4" y2="179.3" stroke="#222" stroke-width="1.25" />
<line x1="490.8" y1="189.7" x2="494.4" y2="186.1" stroke="#222" stroke-width="1.25" />
<line x1="490.8" y1="196.6" x2="494.4" y2="193.0" stroke="#222" stroke-width="1.25" />
<line x1="490.8" y1="203.4" x2="494.4" y2="199.8" stroke="#222" stroke-width="1.25" />
<line x1="490.8" y1="210.3" x2="494.4" y2="206.7" stroke="#222" stroke-width="1.25" />
<line x1="490.8" y1="217.2" x2="494.4" y2="213.6" stroke="#222" stroke-width="1.25" />
<line x1="490.8" y1="224.0" x2="494.4" y2="220.4" stroke="#222" stroke-width="1.25" />
<line x1="490.8" y1="230.9" x2="494.4" y2="227.3" stroke="#222" stroke-width="1.25" />
<line x1="490.8" y1="237.7" x2="494.4" y2="234.1" stroke="#222" stroke-width="1.25" />
<line x1="490.8" y1="244.6" x2="494.4" y2="241.0" stroke="#222" stroke-width="1.25" />
<line x1="490.8" y1="251.5" x2="494.4" y2="247.9" stroke="#222" stroke-width="1.25" />
<rect x="484.5" y="204.5" width="5.0" height="45.0" rx="0" fill="#fff" stroke="#222" stroke-width="1.0"/>
<line x1="488.5" y1="204.3" x2="488.5" y2="249.8" stroke="#222" stroke-width="1.25" />
<line x1="484.8" y1="214.5" x2="489.4" y2="214.5" stroke="#222" stroke-width="1.0" />
<line x1="484.8" y1="221.5" x2="489.4" y2="221.5" stroke="#222" stroke-width="1.0" />
<line x1="484.8" y1="225.5" x2="489.4" y2="225.5" stroke="#222" stroke-width="1.0" />
<line x1="484.8" y1="238.5" x2="489.4" y2="238.5" stroke="#222" stroke-width="1.0" />
<line x1="484.8" y1="241.5" x2="489.4" y2="241.5" stroke="#222" stroke-width="1.0" />
<line x1="484.8" y1="245.5" x2="489.4" y2="245.5" stroke="#222" stroke-width="1.0" />
<line x1="481.2" y1="214.7" x2="484.8" y2="214.7" stroke="#222" stroke-width="1.38" />
<rect x="484.8" y="230.4" width="4.6" height="5.6" fill="#2a2a2a"/>
<circle cx="487.3" cy="233.3" r=".8" fill="#eee"/>
<path d="M484.6 224.4 V242.0 Q480.2 239.0 480.4 233.0 Q480.2 227.0 484.6 224.4 Z" fill="#2a2a2a" stroke="#222" stroke-width="0.75" />
<rect x="478.5" y="230.5" width="2.0" height="5.0" rx="0" fill="#fff" stroke="#222" stroke-width="0.88"/>
<line x1="412.7" y1="233.5" x2="434.0" y2="233.5" stroke="#222" stroke-width="0.88" />
<path d="M480.6 231.3 H438 Q431.6 231.3 431.6 238 V260.5 M480.6 234.8 H439.5 Q435.2 234.8 435.2 239 V260.5" fill="none" stroke="#222" stroke-width="1.19" />
<line x1="433.5" y1="240.0" x2="433.5" y2="260.0" stroke="#222" stroke-width="0.62" />
<path d="M457.5 234.8 A21 21 0 0 1 436 256" fill="none" stroke="#222" stroke-width="0.88" />
<text x="447.2" y="248.2" font-size="7.2" text-anchor="middle" fill="#262626" transform="rotate(-45 447.2 248.2)" >90°</text>
<g transform="translate(433.5 260.8) rotate(0)"><rect x="-3.8" y="0" width="7.6" height="4.6" fill="#222"/>
  <rect x="-2.2" y="1.6" width="4.4" height="1.2" fill="#ddd"/>
  <rect x="-2.9" y="4.4" width="5.8" height="3.6" fill="#fff" stroke="#222" stroke-width=".8"/>
  <rect x="3.2" y="4.8" width="2.4" height="5.4" fill="#222"/>
  <path d="M-2.9 8 L2.9 8 C3.4 11.5 5 13 7 15.4 L-7 15.4 C-5 13 -3.4 11.5 -2.9 8 Z" fill="#fff" stroke="#222" stroke-width=".8"/>
  <path d="M-16.2 24.8 C-15 21 -12.8 17.4 -10.6 15.4 L-12 15.2 L-12 12 L-9 12 L-8.6 14.8 L3.4 14.8 L3.6 11.8 L6.6 11.6 C11 14 14.6 19.5 16.2 24.8 Z" fill="#2d2d2d" stroke="#222" stroke-width=".6"/>
  <path d="M-8.6 17.8V23.2M-6.5 17.4V23.2M-4.4 17.4V23.2M-2.3 17.4V23.2M-0.2 17.4V23.2M1.9 17.4V23.2M4.4 18.2V23.2M8.6 19V23.2M11.4 20.6V23.2M-11.2 19.4V23.2M-13.2 21.4V23.2" stroke="#f2f2f2" stroke-width="1" fill="none"/>
  <path d="M-9.5 16.6 H5" stroke="#999" stroke-width=".5" fill="none"/>
  <rect x="-16.8" y="24.5" width="33.4" height="2.8" fill="#fff" stroke="#222" stroke-width=".9"/>
  <path d="M-14.5 27.4 C-15.3 39 -13.6 47 -5.5 53 L5.5 53 C13.6 47 15.3 39 14.5 27.4" fill="#fff" stroke="#222" stroke-width="1.5"/>
  <path d="M-12.9 27.4 C-13.7 39 -12 46.4 -4.6 51.8 M12.9 27.4 C13.7 39 12 46.4 4.6 51.8" fill="none" stroke="#222" stroke-width=".75"/>
  <path d="M-6.9 27.4 C-7.4 38 -6.6 47 -2 53 M6.9 27.4 C7.4 38 6.6 47 2 53" fill="none" stroke="#222" stroke-width="1.7"/>
  <path d="M-14.9 32 H14.9 M-14.8 39.2 H14.8 M-11.6 47 H11.6" fill="none" stroke="#222" stroke-width="1.5"/>
  <path d="M-9.6 50.2 Q0 54.6 9.6 50.2" fill="none" stroke="#222" stroke-width=".9"/></g>
<line x1="435.0" y1="230.0" x2="485.6" y2="181.1" stroke="#222" stroke-width="1.12" />
<line x1="435.0" y1="230.0" x2="485.6" y2="181.1" stroke="#222" stroke-width="1.94" stroke-dasharray="2.3 0.7"/>
<line x1="437.5" y1="227.6" x2="453.2" y2="212.4" stroke="#222" stroke-width="3.25" />
<circle cx="435.0" cy="230.5" r="2.1" fill="#222"/>
<path d="M484.1 182.6 L486.8 178.6 M485.6 181.6 Q486.6 184.1 490.8 183.6" fill="none" stroke="#222" stroke-width="1.12" />
<line x1="433.0" y1="266.5" x2="490.8" y2="266.5" stroke="#222" stroke-width="0.88" />
<text x="463.3" y="265.2" font-size="7.8" text-anchor="middle" fill="#262626" >335</text>
<line x1="415.5" y1="233.5" x2="415.5" y2="313.5" stroke="#222" stroke-width="0.88" />
<line x1="413.0" y1="313.5" x2="435.0" y2="313.5" stroke="#222" stroke-width="0.88" />
<text x="413.8" y="268.0" font-size="7.4" text-anchor="middle" fill="#262626" transform="rotate(-90 413.8 268.0)" >H</text>
<line x1="467.3" y1="183.1" x2="484.0" y2="182.0" stroke="#222" stroke-width="0.94" />
<circle cx="463.3" cy="183.4" r="4.0" fill="#fff" stroke="#222" stroke-width="1"/>
<text x="463.3" y="185.9" font-size="7" text-anchor="middle" fill="#222" textLength="6.6" lengthAdjust="spacingAndGlyphs">10</text>
<line x1="450.7" y1="198.7" x2="465.5" y2="200.0" stroke="#222" stroke-width="0.94" />
<circle cx="446.7" cy="198.3" r="4.0" fill="#fff" stroke="#222" stroke-width="1"/>
<text x="446.7" y="201.0" font-size="7.6" text-anchor="middle" fill="#222" stroke="#222" stroke-width=".2">9</text>
<line x1="437.8" y1="212.9" x2="447.5" y2="217.5" stroke="#222" stroke-width="0.94" />
<circle cx="434.2" cy="211.2" r="4.0" fill="#fff" stroke="#222" stroke-width="1"/>
<text x="434.2" y="213.9" font-size="7.6" text-anchor="middle" fill="#222" stroke="#222" stroke-width=".2">8</text>
<line x1="426.7" y1="227.0" x2="432.2" y2="246.0" stroke="#222" stroke-width="0.94" />
<circle cx="425.6" cy="223.2" r="4.0" fill="#fff" stroke="#222" stroke-width="1"/>
<text x="425.6" y="225.7" font-size="7" text-anchor="middle" fill="#222" textLength="6.6" lengthAdjust="spacingAndGlyphs">11</text>
<line x1="469.7" y1="242.4" x2="479.5" y2="236.0" stroke="#222" stroke-width="0.94" />
<circle cx="466.4" cy="244.6" r="4.0" fill="#fff" stroke="#222" stroke-width="1"/>
<text x="466.4" y="247.3" font-size="7.6" text-anchor="middle" fill="#222" stroke="#222" stroke-width=".2">3</text>
<line x1="462.5" y1="255.5" x2="437.5" y2="262.5" stroke="#222" stroke-width="0.94" />
<circle cx="466.4" cy="254.4" r="4.0" fill="#fff" stroke="#222" stroke-width="1"/>
<text x="466.4" y="257.1" font-size="7.6" text-anchor="middle" fill="#222" stroke="#222" stroke-width=".2">5</text>
<line x1="462.9" y1="276.9" x2="449.0" y2="284.5" stroke="#222" stroke-width="0.94" />
<circle cx="466.4" cy="275.0" r="4.0" fill="#fff" stroke="#222" stroke-width="1"/>
<text x="466.4" y="277.7" font-size="7.6" text-anchor="middle" fill="#222" stroke="#222" stroke-width=".2">1</text>
<line x1="589.5" y1="171.7" x2="589.5" y2="269.5" stroke="#222" stroke-width="1.25" />
<line x1="589.0" y1="175.1" x2="592.6" y2="171.5" stroke="#222" stroke-width="1.25" />
<line x1="589.0" y1="182.0" x2="592.6" y2="178.4" stroke="#222" stroke-width="1.25" />
<line x1="589.0" y1="188.8" x2="592.6" y2="185.2" stroke="#222" stroke-width="1.25" />
<line x1="589.0" y1="195.7" x2="592.6" y2="192.1" stroke="#222" stroke-width="1.25" />
<line x1="589.0" y1="202.5" x2="592.6" y2="198.9" stroke="#222" stroke-width="1.25" />
<line x1="589.0" y1="209.4" x2="592.6" y2="205.8" stroke="#222" stroke-width="1.25" />
<line x1="589.0" y1="216.3" x2="592.6" y2="212.7" stroke="#222" stroke-width="1.25" />
<line x1="589.0" y1="223.1" x2="592.6" y2="219.5" stroke="#222" stroke-width="1.25" />
<line x1="589.0" y1="230.0" x2="592.6" y2="226.4" stroke="#222" stroke-width="1.25" />
<line x1="589.0" y1="236.8" x2="592.6" y2="233.2" stroke="#222" stroke-width="1.25" />
<line x1="589.0" y1="243.7" x2="592.6" y2="240.1" stroke="#222" stroke-width="1.25" />
<line x1="589.0" y1="250.6" x2="592.6" y2="247.0" stroke="#222" stroke-width="1.25" />
<g transform="translate(574.4 233.5) rotate(90)"><rect x="-22" y="-2.6" width="6" height="5" fill="#fff" stroke="#222" stroke-width=".8"/>
  <rect x="16" y="-2.6" width="6" height="5" fill="#fff" stroke="#222" stroke-width=".8"/>
  <rect x="-16" y="-13" width="32" height="26" rx="2" fill="#fff" stroke="#222" stroke-width="1.2"/>
  <rect x="-13.6" y="-10.8" width="27.2" height="21.6" rx="1" fill="none" stroke="#222" stroke-width=".6"/>
  <rect x="-11.4" y="-9.2" width="22.8" height="18.4" fill="none" stroke="#222" stroke-width="1.1"/>
  <rect x="-5.9" y="-2.8" width="11.8" height="5.3" fill="#fff" stroke="#222" stroke-width="1"/>
  <line x1="-6.5" y1="6.3" x2="9" y2="6.3" stroke="#222" stroke-width="1.2" stroke-dasharray="1.6 .5"/>
  <rect x="-1.6" y="-13" width="3.2" height="3" fill="#222"/>
  <rect x="-1.6" y="9.4" width="3.2" height="3.6" fill="#222"/>
  <rect x="-17" y="-2.2" width="2.4" height="4.2" fill="#222"/>
  <rect x="14.6" y="-2.2" width="2.4" height="4.2" fill="#222"/></g>
<line x1="503.6" y1="233.5" x2="525.0" y2="233.5" stroke="#222" stroke-width="0.88" />
<path d="M561 230.9 H529 Q522.4 230.9 522.4 238 V260.5 M561 234.4 H530.5 Q526 234.4 526 239 V260.5" fill="none" stroke="#222" stroke-width="1.19" />
<rect x="558.5" y="229.5" width="3.0" height="6.0" rx="0" fill="#fff" stroke="#222" stroke-width="0.88"/>
<line x1="524.5" y1="240.0" x2="524.5" y2="260.0" stroke="#222" stroke-width="0.62" />
<path d="M547.5 234.4 A20.5 20.5 0 0 1 527 255" fill="none" stroke="#222" stroke-width="0.88" />
<text x="537.8" y="248.0" font-size="7.2" text-anchor="middle" fill="#262626" transform="rotate(-45 537.8 248.0)" >90°</text>
<g transform="translate(524.3 260.8) rotate(0)"><rect x="-3.8" y="0" width="7.6" height="4.6" fill="#222"/>
  <rect x="-2.2" y="1.6" width="4.4" height="1.2" fill="#ddd"/>
  <rect x="-2.9" y="4.4" width="5.8" height="3.6" fill="#fff" stroke="#222" stroke-width=".8"/>
  <rect x="3.2" y="4.8" width="2.4" height="5.4" fill="#222"/>
  <path d="M-2.9 8 L2.9 8 C3.4 11.5 5 13 7 15.4 L-7 15.4 C-5 13 -3.4 11.5 -2.9 8 Z" fill="#fff" stroke="#222" stroke-width=".8"/>
  <path d="M-16.2 24.8 C-15 21 -12.8 17.4 -10.6 15.4 L-12 15.2 L-12 12 L-9 12 L-8.6 14.8 L3.4 14.8 L3.6 11.8 L6.6 11.6 C11 14 14.6 19.5 16.2 24.8 Z" fill="#2d2d2d" stroke="#222" stroke-width=".6"/>
  <path d="M-8.6 17.8V23.2M-6.5 17.4V23.2M-4.4 17.4V23.2M-2.3 17.4V23.2M-0.2 17.4V23.2M1.9 17.4V23.2M4.4 18.2V23.2M8.6 19V23.2M11.4 20.6V23.2M-11.2 19.4V23.2M-13.2 21.4V23.2" stroke="#f2f2f2" stroke-width="1" fill="none"/>
  <path d="M-9.5 16.6 H5" stroke="#999" stroke-width=".5" fill="none"/>
  <rect x="-16.8" y="24.5" width="33.4" height="2.8" fill="#fff" stroke="#222" stroke-width=".9"/>
  <path d="M-14.5 27.4 C-15.3 39 -13.6 47 -5.5 53 L5.5 53 C13.6 47 15.3 39 14.5 27.4" fill="#fff" stroke="#222" stroke-width="1.5"/>
  <path d="M-12.9 27.4 C-13.7 39 -12 46.4 -4.6 51.8 M12.9 27.4 C13.7 39 12 46.4 4.6 51.8" fill="none" stroke="#222" stroke-width=".75"/>
  <path d="M-6.9 27.4 C-7.4 38 -6.6 47 -2 53 M6.9 27.4 C7.4 38 6.6 47 2 53" fill="none" stroke="#222" stroke-width="1.7"/>
  <path d="M-14.9 32 H14.9 M-14.8 39.2 H14.8 M-11.6 47 H11.6" fill="none" stroke="#222" stroke-width="1.5"/>
  <path d="M-9.6 50.2 Q0 54.6 9.6 50.2" fill="none" stroke="#222" stroke-width=".9"/></g>
<line x1="525.9" y1="230.0" x2="575.7" y2="181.2" stroke="#222" stroke-width="1.12" />
<line x1="525.9" y1="230.0" x2="575.7" y2="181.2" stroke="#222" stroke-width="1.94" stroke-dasharray="2.3 0.7"/>
<line x1="528.4" y1="227.6" x2="543.8" y2="212.4" stroke="#222" stroke-width="3.25" />
<circle cx="525.9" cy="230.5" r="2.1" fill="#222"/>
<path d="M574.2 182.7 L576.9 178.7 M575.7 181.7 Q576.7 184.2 578.0 183.7" fill="none" stroke="#222" stroke-width="1.12" />
<line x1="577.0" y1="182.5" x2="589.0" y2="182.5" stroke="#222" stroke-width="0.88" />
<line x1="524.0" y1="269.5" x2="589.0" y2="269.5" stroke="#222" stroke-width="0.88" />
<line x1="556.5" y1="263.3" x2="556.5" y2="269.2" stroke="#222" stroke-width="0.75" />
<line x1="505.5" y1="233.2" x2="505.5" y2="314.2" stroke="#222" stroke-width="0.88" />
<line x1="504.0" y1="314.5" x2="526.0" y2="314.5" stroke="#222" stroke-width="0.88" />
<text x="504.4" y="268.0" font-size="7.4" text-anchor="middle" fill="#262626" transform="rotate(-90 504.4 268.0)" >H</text>
<line x1="557.7" y1="183.1" x2="574.5" y2="182.0" stroke="#222" stroke-width="0.94" />
<circle cx="553.7" cy="183.4" r="4.0" fill="#fff" stroke="#222" stroke-width="1"/>
<text x="553.7" y="185.9" font-size="7" text-anchor="middle" fill="#222" textLength="6.6" lengthAdjust="spacingAndGlyphs">10</text>
<line x1="541.0" y1="198.7" x2="556.0" y2="200.0" stroke="#222" stroke-width="0.94" />
<circle cx="537.0" cy="198.3" r="4.0" fill="#fff" stroke="#222" stroke-width="1"/>
<text x="537.0" y="201.0" font-size="7.6" text-anchor="middle" fill="#222" stroke="#222" stroke-width=".2">9</text>
<line x1="527.8" y1="212.9" x2="538.0" y2="217.5" stroke="#222" stroke-width="0.94" />
<circle cx="524.2" cy="211.2" r="4.0" fill="#fff" stroke="#222" stroke-width="1"/>
<text x="524.2" y="213.9" font-size="7.6" text-anchor="middle" fill="#222" stroke="#222" stroke-width=".2">8</text>
<line x1="513.8" y1="225.1" x2="522.8" y2="245.0" stroke="#222" stroke-width="0.94" />
<circle cx="512.2" cy="221.5" r="4.0" fill="#fff" stroke="#222" stroke-width="1"/>
<text x="512.2" y="224.0" font-size="7" text-anchor="middle" fill="#222" textLength="6.6" lengthAdjust="spacingAndGlyphs">11</text>
<line x1="559.8" y1="247.3" x2="562.0" y2="246.0" stroke="#222" stroke-width="0.94" />
<circle cx="556.3" cy="249.3" r="4.0" fill="#fff" stroke="#222" stroke-width="1"/>
<text x="556.3" y="252.0" font-size="7.6" text-anchor="middle" fill="#222" stroke="#222" stroke-width=".2">4</text>
<line x1="552.3" y1="259.4" x2="528.0" y2="262.5" stroke="#222" stroke-width="0.94" />
<circle cx="556.3" cy="258.9" r="4.0" fill="#fff" stroke="#222" stroke-width="1"/>
<text x="556.3" y="261.6" font-size="7.6" text-anchor="middle" fill="#222" stroke="#222" stroke-width=".2">5</text>
<line x1="552.4" y1="282.6" x2="540.0" y2="285.0" stroke="#222" stroke-width="0.94" />
<circle cx="556.3" cy="281.9" r="4.0" fill="#fff" stroke="#222" stroke-width="1"/>
<text x="556.3" y="284.6" font-size="7.6" text-anchor="middle" fill="#222" stroke="#222" stroke-width=".2">1</text>
<path d="M31.0 625.5 V428.1 A30.4 30.4 0 0 1 87.7 412.9 L95.5 426.3" fill="none" stroke="#222" stroke-width="8"/>
<path d="M31.0 625.5 V428.1 A30.4 30.4 0 0 1 87.7 412.9 L95.5 426.3" fill="none" stroke="#fff" stroke-width="6"/>
<g transform="translate(95.5 426.3) rotate(-30)"><path d="M-3.9 -2 L-6 0.8 L-6 3.4 L6 3.4 L6 0.8 L3.9 -2 Z" fill="#fff" stroke="#222" stroke-width=".9"/><path d="M-6 0.8 H6" stroke="#222" stroke-width=".6"/><rect x="-3.6" y="3.4" width="7.2" height="1.8" fill="#fff" stroke="#222" stroke-width=".7"/></g>
<g transform="translate(98.1 430.7) rotate(-30)"><rect x="-3.8" y="0" width="7.6" height="4.6" fill="#222"/>
  <rect x="-2.2" y="1.6" width="4.4" height="1.2" fill="#ddd"/>
  <rect x="-2.9" y="4.4" width="5.8" height="3.6" fill="#fff" stroke="#222" stroke-width=".8"/>
  <rect x="3.2" y="4.8" width="2.4" height="5.4" fill="#222"/>
  <path d="M-2.9 8 L2.9 8 C3.4 11.5 5 13 7 15.4 L-7 15.4 C-5 13 -3.4 11.5 -2.9 8 Z" fill="#fff" stroke="#222" stroke-width=".8"/>
  <path d="M-16.2 24.8 C-15 21 -12.8 17.4 -10.6 15.4 L-12 15.2 L-12 12 L-9 12 L-8.6 14.8 L3.4 14.8 L3.6 11.8 L6.6 11.6 C11 14 14.6 19.5 16.2 24.8 Z" fill="#2d2d2d" stroke="#222" stroke-width=".6"/>
  <path d="M-8.6 17.8V23.2M-6.5 17.4V23.2M-4.4 17.4V23.2M-2.3 17.4V23.2M-0.2 17.4V23.2M1.9 17.4V23.2M4.4 18.2V23.2M8.6 19V23.2M11.4 20.6V23.2M-11.2 19.4V23.2M-13.2 21.4V23.2" stroke="#f2f2f2" stroke-width="1" fill="none"/>
  <path d="M-9.5 16.6 H5" stroke="#999" stroke-width=".5" fill="none"/>
  <rect x="-16.8" y="24.5" width="33.4" height="2.8" fill="#fff" stroke="#222" stroke-width=".9"/>
  <path d="M-14.5 27.4 C-15.3 39 -13.6 47 -5.5 53 L5.5 53 C13.6 47 15.3 39 14.5 27.4" fill="#fff" stroke="#222" stroke-width="1.5"/>
  <path d="M-12.9 27.4 C-13.7 39 -12 46.4 -4.6 51.8 M12.9 27.4 C13.7 39 12 46.4 4.6 51.8" fill="none" stroke="#222" stroke-width=".75"/>
  <path d="M-6.9 27.4 C-7.4 38 -6.6 47 -2 53 M6.9 27.4 C7.4 38 6.6 47 2 53" fill="none" stroke="#222" stroke-width="1.7"/>
  <path d="M-14.9 32 H14.9 M-14.8 39.2 H14.8 M-11.6 47 H11.6" fill="none" stroke="#222" stroke-width="1.5"/>
  <path d="M-9.6 50.2 Q0 54.6 9.6 50.2" fill="none" stroke="#222" stroke-width=".9"/></g>
<line x1="83.5" y1="416.0" x2="83.5" y2="433.5" stroke="#222" stroke-width="0.75" />
<path d="M75.0 429.2 Q83.5 433.5 92.5 425.5" fill="none" stroke="#222" stroke-width="0.75" />
<text x="88.1" y="429.2" font-size="7" text-anchor="middle" fill="#262626" transform="rotate(-14 88.1 429.2)" >30°</text>
<line x1="60.0" y1="435.5" x2="94.0" y2="435.5" stroke="#222" stroke-width="0.88" />
<line x1="61.5" y1="435.8" x2="61.5" y2="639.0" stroke="#222" stroke-width="0.88" />
<text x="59.4" y="540.0" font-size="7.8" text-anchor="middle" fill="#262626" transform="rotate(-90 59.4 540.0)" >2400</text>
<path d="M27.0 531.8 q2 -2.4 4 -0.8 t4 -0.8" fill="none" stroke="#222" stroke-width="1.0" />
<line x1="48.5" y1="467.0" x2="32.0" y2="481.0" stroke="#222" stroke-width="0.94" />
<circle cx="51.5" cy="464.4" r="4.0" fill="#fff" stroke="#222" stroke-width="1"/>
<text x="51.5" y="466.9" font-size="7" text-anchor="middle" fill="#222" textLength="6.6" lengthAdjust="spacingAndGlyphs">12</text>
<line x1="74.8" y1="474.3" x2="95.5" y2="455.0" stroke="#222" stroke-width="0.94" />
<circle cx="71.9" cy="477.0" r="4.0" fill="#fff" stroke="#222" stroke-width="1"/>
<text x="71.9" y="479.7" font-size="7.6" text-anchor="middle" fill="#222" stroke="#222" stroke-width=".2">1</text>
<rect x="25.5" y="625.5" width="11.0" height="13.0" rx="0" fill="#fff" stroke="#222" stroke-width="1.0"/>
<circle cx="30" cy="629.2" r="1.1" fill="#222"/>
<circle cx="30" cy="634.2" r="1.1" fill="#222"/>
<line x1="15.3" y1="639.5" x2="62.3" y2="639.5" stroke="#222" stroke-width="0.88" />
<line x1="15.3" y1="638.8" x2="46.0" y2="638.8" stroke="#222" stroke-width="2.0" />
<circle cx="21.5" cy="637" r="1.1" fill="#222"/>
<rect x="18.5" y="597.5" width="8.0" height="6.0" rx="0" fill="#fff" stroke="#222" stroke-width="0.88"/>
<path d="M18.2 597.6 Q15.6 600.6 18.2 603.6" fill="none" stroke="#222" stroke-width="1.62" />
<line x1="20.3" y1="597.6" x2="20.3" y2="603.6" stroke="#222" stroke-width="1.38" />
<text x="44.6" y="656.2" font-size="7.9" text-anchor="middle" fill="#1c1c1c" stroke="#1c1c1c" stroke-width=".15">法兰式 (f)</text>
<text x="62.4" y="586.6" font-size="7.8" text-anchor="start" fill="#262626" >4–Φ15</text>
<path d="M62 588 H78 L81 592" fill="none" stroke="#222" stroke-width="0.88" />
<text x="70.0" y="596.4" font-size="7.4" text-anchor="middle" fill="#262626" >通</text>
<rect x="80.5" y="592.5" width="31.0" height="31.0" rx="0" fill="#fff" stroke="#222" stroke-width="1.0"/>
<line x1="85.5" y1="598.0" x2="88.6" y2="602.2" stroke="#222" stroke-width="1.12" />
<line x1="77.3" y1="607.5" x2="111.5" y2="607.5" stroke="#222" stroke-width="1.12" />
<line x1="95.5" y1="589.3" x2="95.5" y2="623.4" stroke="#222" stroke-width="1.12" />
<circle cx="84.2" cy="596.1" r="1.45" fill="#222"/>
<circle cx="84.2" cy="619.4" r="1.45" fill="#222"/>
<circle cx="107.7" cy="596.1" r="1.45" fill="#222"/>
<circle cx="107.7" cy="619.4" r="1.45" fill="#222"/>
<circle cx="95.9" cy="607.9" r="3.8" fill="#fff" stroke="#222" stroke-width="1.8"/>
<rect x="94.5" y="606.5" width="3.0" height="3.0" rx="0" fill="#fff" stroke="#222" stroke-width="0.75"/>
<path d="M89.2 607.9 L86.6 606.2 L85 607.9 L86.6 609.6 Z" fill="#222" stroke="#222" stroke-width="0.62" />
<line x1="108.0" y1="596.5" x2="123.0" y2="596.5" stroke="#222" stroke-width="0.75" />
<line x1="108.0" y1="619.5" x2="123.0" y2="619.5" stroke="#222" stroke-width="0.75" />
<line x1="111.5" y1="592.5" x2="131.5" y2="592.5" stroke="#222" stroke-width="0.75" />
<line x1="111.5" y1="623.5" x2="131.5" y2="623.5" stroke="#222" stroke-width="0.75" />
<line x1="122.5" y1="596.1" x2="122.5" y2="619.4" stroke="#222" stroke-width="0.88" />
<line x1="130.5" y1="592.4" x2="130.5" y2="623.4" stroke="#222" stroke-width="0.88" />
<text x="121.0" y="607.6" font-size="7.6" text-anchor="middle" fill="#262626" transform="rotate(-90 121.0 607.6)" >150</text>
<text x="129.6" y="607.6" font-size="7.6" text-anchor="middle" fill="#262626" transform="rotate(-90 129.6 607.6)" >200</text>
<line x1="84.5" y1="620.0" x2="84.5" y2="632.5" stroke="#222" stroke-width="0.75" />
<line x1="107.5" y1="620.0" x2="107.5" y2="632.5" stroke="#222" stroke-width="0.75" />
<line x1="80.5" y1="623.4" x2="80.5" y2="639.5" stroke="#222" stroke-width="0.75" />
<line x1="111.5" y1="623.4" x2="111.5" y2="639.5" stroke="#222" stroke-width="0.75" />
<line x1="84.2" y1="631.5" x2="107.7" y2="631.5" stroke="#222" stroke-width="0.88" />
<line x1="80.4" y1="637.5" x2="111.5" y2="637.5" stroke="#222" stroke-width="0.88" />
<text x="95.9" y="630.4" font-size="7.6" text-anchor="middle" fill="#262626" >150</text>
<text x="95.9" y="637.6" font-size="7.6" text-anchor="middle" fill="#262626" >200</text>
<path d="M160.0 617.0 V406.1 A30.4 30.4 0 0 1 216.7 390.9 L225.5 406.1" fill="none" stroke="#222" stroke-width="8"/>
<path d="M160.0 617.0 V406.1 A30.4 30.4 0 0 1 216.7 390.9 L225.5 406.1" fill="none" stroke="#fff" stroke-width="6"/>
<g transform="translate(225.5 406.1) rotate(-30)"><path d="M-3.9 -2 L-6 0.8 L-6 3.4 L6 3.4 L6 0.8 L3.9 -2 Z" fill="#fff" stroke="#222" stroke-width=".9"/><path d="M-6 0.8 H6" stroke="#222" stroke-width=".6"/><rect x="-3.6" y="3.4" width="7.2" height="1.8" fill="#fff" stroke="#222" stroke-width=".7"/></g>
<g transform="translate(227.3 411.0) rotate(-30)"><rect x="-3.8" y="0" width="7.6" height="4.6" fill="#222"/>
  <rect x="-2.2" y="1.6" width="4.4" height="1.2" fill="#ddd"/>
  <rect x="-2.9" y="4.4" width="5.8" height="3.6" fill="#fff" stroke="#222" stroke-width=".8"/>
  <rect x="3.2" y="4.8" width="2.4" height="5.4" fill="#222"/>
  <path d="M-2.9 8 L2.9 8 C3.4 11.5 5 13 7 15.4 L-7 15.4 C-5 13 -3.4 11.5 -2.9 8 Z" fill="#fff" stroke="#222" stroke-width=".8"/>
  <path d="M-16.2 24.8 C-15 21 -12.8 17.4 -10.6 15.4 L-12 15.2 L-12 12 L-9 12 L-8.6 14.8 L3.4 14.8 L3.6 11.8 L6.6 11.6 C11 14 14.6 19.5 16.2 24.8 Z" fill="#2d2d2d" stroke="#222" stroke-width=".6"/>
  <path d="M-8.6 17.8V23.2M-6.5 17.4V23.2M-4.4 17.4V23.2M-2.3 17.4V23.2M-0.2 17.4V23.2M1.9 17.4V23.2M4.4 18.2V23.2M8.6 19V23.2M11.4 20.6V23.2M-11.2 19.4V23.2M-13.2 21.4V23.2" stroke="#f2f2f2" stroke-width="1" fill="none"/>
  <path d="M-9.5 16.6 H5" stroke="#999" stroke-width=".5" fill="none"/>
  <rect x="-16.8" y="24.5" width="33.4" height="2.8" fill="#fff" stroke="#222" stroke-width=".9"/>
  <path d="M-14.5 27.4 C-15.3 39 -13.6 47 -5.5 53 L5.5 53 C13.6 47 15.3 39 14.5 27.4" fill="#fff" stroke="#222" stroke-width="1.5"/>
  <path d="M-12.9 27.4 C-13.7 39 -12 46.4 -4.6 51.8 M12.9 27.4 C13.7 39 12 46.4 4.6 51.8" fill="none" stroke="#222" stroke-width=".75"/>
  <path d="M-6.9 27.4 C-7.4 38 -6.6 47 -2 53 M6.9 27.4 C7.4 38 6.6 47 2 53" fill="none" stroke="#222" stroke-width="1.7"/>
  <path d="M-14.9 32 H14.9 M-14.8 39.2 H14.8 M-11.6 47 H11.6" fill="none" stroke="#222" stroke-width="1.5"/>
  <path d="M-9.6 50.2 Q0 54.6 9.6 50.2" fill="none" stroke="#222" stroke-width=".9"/></g>
<line x1="213.5" y1="392.5" x2="213.5" y2="410.0" stroke="#222" stroke-width="0.75" />
<path d="M204.7 405.7 Q213.2 410.0 222.2 402.0" fill="none" stroke="#222" stroke-width="0.75" />
<text x="217.8" y="405.7" font-size="7" text-anchor="middle" fill="#262626" transform="rotate(-14 217.8 405.7)" >30°</text>
<line x1="195.7" y1="414.5" x2="224.0" y2="414.5" stroke="#222" stroke-width="0.88" />
<line x1="196.5" y1="414.6" x2="196.5" y2="617.3" stroke="#222" stroke-width="0.88" />
<line x1="160.0" y1="617.5" x2="198.0" y2="617.5" stroke="#222" stroke-width="0.88" />
<text x="195.2" y="502.4" font-size="7.8" text-anchor="middle" fill="#262626" transform="rotate(-90 195.2 502.4)" >2300</text>
<path d="M156.2 523.3 q2 -2.4 4 -0.8 t4 -0.8" fill="none" stroke="#222" stroke-width="1.0" />
<rect x="153.5" y="542.5" width="2.0" height="63.0" rx="0" fill="#fff" stroke="#222" stroke-width="0.75"/>
<rect x="149.5" y="557.5" width="19.0" height="3.0" rx="0" fill="#fff" stroke="#222" stroke-width="0.88"/>
<rect x="149.5" y="583.5" width="19.0" height="3.0" rx="0" fill="#fff" stroke="#222" stroke-width="0.88"/>
<line x1="215.1" y1="439.4" x2="225.5" y2="432.0" stroke="#222" stroke-width="0.94" />
<circle cx="211.8" cy="441.7" r="4.0" fill="#fff" stroke="#222" stroke-width="1"/>
<text x="211.8" y="444.4" font-size="7.6" text-anchor="middle" fill="#222" stroke="#222" stroke-width=".2">1</text>
<line x1="178.9" y1="474.0" x2="161.0" y2="488.0" stroke="#222" stroke-width="0.94" />
<circle cx="182.0" cy="471.5" r="4.0" fill="#fff" stroke="#222" stroke-width="1"/>
<text x="182.0" y="474.0" font-size="7" text-anchor="middle" fill="#222" textLength="6.6" lengthAdjust="spacingAndGlyphs">13</text>
<line x1="178.4" y1="578.0" x2="167.5" y2="584.5" stroke="#222" stroke-width="0.94" />
<circle cx="181.8" cy="576.0" r="4.0" fill="#fff" stroke="#222" stroke-width="1"/>
<text x="181.8" y="578.5" font-size="7" text-anchor="middle" fill="#222" textLength="6.6" lengthAdjust="spacingAndGlyphs">14</text>
<rect x="155.5" y="618.5" width="9.0" height="7.0" rx="0" fill="#2d2d2d" stroke="#222" stroke-width="0.75"/>
<path d="M155.2 620.6 H164.6 M155.2 623.2 H164.6" fill="none" stroke="#ccc" stroke-width="0.62" />
<rect x="157.5" y="625.5" width="5.0" height="7.0" rx="0" fill="#fff" stroke="#222" stroke-width="0.88"/>
<rect x="144.5" y="636.5" width="8.0" height="7.0" rx="0" fill="#fff" stroke="#222" stroke-width="1.0"/>
<rect x="167.5" y="636.5" width="9.0" height="7.0" rx="0" fill="#fff" stroke="#222" stroke-width="1.0"/>
<line x1="146.4" y1="636.0" x2="146.4" y2="643.0" stroke="#222" stroke-width="1.5" />
<line x1="174.0" y1="636.0" x2="174.0" y2="643.0" stroke="#222" stroke-width="1.5" />
<circle cx="160.3" cy="639.6" r="7" fill="#fff" stroke="#222" stroke-width="1.7"/>
<circle cx="160.3" cy="639.6" r="5" fill="none" stroke="#222" stroke-width=".6"/>
<path d="M156.2 643 Q158 640.6 160.3 642.8 Q162.6 640.6 164.4 643" fill="none" stroke="#222" stroke-width="1.25" />
<circle cx="166.1" cy="644.5" r="1.1" fill="#222"/>
<circle cx="154.5" cy="644.5" r="1.1" fill="#222"/>
<circle cx="154.5" cy="634.7" r="1.1" fill="#222"/>
<circle cx="166.1" cy="634.7" r="1.1" fill="#222"/>
<line x1="172.2" y1="625.5" x2="166.2" y2="632.5" stroke="#222" stroke-width="0.94" />
<circle cx="174.8" cy="622.5" r="4.0" fill="#fff" stroke="#222" stroke-width="1"/>
<text x="174.8" y="625.0" font-size="7" text-anchor="middle" fill="#222" textLength="6.6" lengthAdjust="spacingAndGlyphs">15</text>
<text x="223.7" y="659.3" font-size="7.9" text-anchor="middle" fill="#1c1c1c" stroke="#1c1c1c" stroke-width=".15">护栏式 (h)</text>
<path d="M275.5 613.0 V401.4 A30.4 30.4 0 0 1 332.2 386.2 L341.0 401.4" fill="none" stroke="#222" stroke-width="9"/>
<path d="M275.5 613.0 V401.4 A30.4 30.4 0 0 1 332.2 386.2 L341.0 401.4" fill="none" stroke="#fff" stroke-width="7"/>
<g transform="translate(341.0 401.4) rotate(-30)"><path d="M-3.9 -2 L-6 0.8 L-6 3.4 L6 3.4 L6 0.8 L3.9 -2 Z" fill="#fff" stroke="#222" stroke-width=".9"/><path d="M-6 0.8 H6" stroke="#222" stroke-width=".6"/><rect x="-3.6" y="3.4" width="7.2" height="1.8" fill="#fff" stroke="#222" stroke-width=".7"/></g>
<g transform="translate(342.8 406.5) rotate(-30)"><rect x="-3.8" y="0" width="7.6" height="4.6" fill="#222"/>
  <rect x="-2.2" y="1.6" width="4.4" height="1.2" fill="#ddd"/>
  <rect x="-2.9" y="4.4" width="5.8" height="3.6" fill="#fff" stroke="#222" stroke-width=".8"/>
  <rect x="3.2" y="4.8" width="2.4" height="5.4" fill="#222"/>
  <path d="M-2.9 8 L2.9 8 C3.4 11.5 5 13 7 15.4 L-7 15.4 C-5 13 -3.4 11.5 -2.9 8 Z" fill="#fff" stroke="#222" stroke-width=".8"/>
  <path d="M-16.2 24.8 C-15 21 -12.8 17.4 -10.6 15.4 L-12 15.2 L-12 12 L-9 12 L-8.6 14.8 L3.4 14.8 L3.6 11.8 L6.6 11.6 C11 14 14.6 19.5 16.2 24.8 Z" fill="#2d2d2d" stroke="#222" stroke-width=".6"/>
  <path d="M-8.6 17.8V23.2M-6.5 17.4V23.2M-4.4 17.4V23.2M-2.3 17.4V23.2M-0.2 17.4V23.2M1.9 17.4V23.2M4.4 18.2V23.2M8.6 19V23.2M11.4 20.6V23.2M-11.2 19.4V23.2M-13.2 21.4V23.2" stroke="#f2f2f2" stroke-width="1" fill="none"/>
  <path d="M-9.5 16.6 H5" stroke="#999" stroke-width=".5" fill="none"/>
  <rect x="-16.8" y="24.5" width="33.4" height="2.8" fill="#fff" stroke="#222" stroke-width=".9"/>
  <path d="M-14.5 27.4 C-15.3 39 -13.6 47 -5.5 53 L5.5 53 C13.6 47 15.3 39 14.5 27.4" fill="#fff" stroke="#222" stroke-width="1.5"/>
  <path d="M-12.9 27.4 C-13.7 39 -12 46.4 -4.6 51.8 M12.9 27.4 C13.7 39 12 46.4 4.6 51.8" fill="none" stroke="#222" stroke-width=".75"/>
  <path d="M-6.9 27.4 C-7.4 38 -6.6 47 -2 53 M6.9 27.4 C7.4 38 6.6 47 2 53" fill="none" stroke="#222" stroke-width="1.7"/>
  <path d="M-14.9 32 H14.9 M-14.8 39.2 H14.8 M-11.6 47 H11.6" fill="none" stroke="#222" stroke-width="1.5"/>
  <path d="M-9.6 50.2 Q0 54.6 9.6 50.2" fill="none" stroke="#222" stroke-width=".9"/></g>
<line x1="328.5" y1="387.5" x2="328.5" y2="405.0" stroke="#222" stroke-width="0.75" />
<path d="M319.7 400.7 Q328.2 405.0 337.2 397.0" fill="none" stroke="#222" stroke-width="0.75" />
<text x="332.8" y="400.7" font-size="7" text-anchor="middle" fill="#262626" transform="rotate(-14 332.8 400.7)" >30°</text>
<line x1="313.7" y1="409.5" x2="339.0" y2="409.5" stroke="#222" stroke-width="0.88" />
<line x1="315.5" y1="409.7" x2="315.5" y2="612.0" stroke="#222" stroke-width="0.88" />
<line x1="275.0" y1="612.5" x2="317.0" y2="612.5" stroke="#222" stroke-width="0.88" />
<text x="313.8" y="524.7" font-size="7.8" text-anchor="middle" fill="#262626" transform="rotate(-90 313.8 524.7)" >2300</text>
<path d="M271.3 518.1 q2 -2.4 4 -0.8 t4 -0.8" fill="none" stroke="#222" stroke-width="1.0" />
<rect x="268.5" y="537.5" width="2.0" height="62.0" rx="0" fill="#fff" stroke="#222" stroke-width="0.75"/>
<rect x="264.5" y="552.5" width="19.0" height="3.0" rx="0" fill="#fff" stroke="#222" stroke-width="0.88"/>
<rect x="264.5" y="578.5" width="19.0" height="3.0" rx="0" fill="#fff" stroke="#222" stroke-width="0.88"/>
<line x1="330.5" y1="434.2" x2="340.5" y2="427.0" stroke="#222" stroke-width="0.94" />
<circle cx="327.2" cy="436.5" r="4.0" fill="#fff" stroke="#222" stroke-width="1"/>
<text x="327.2" y="439.2" font-size="7.6" text-anchor="middle" fill="#222" stroke="#222" stroke-width=".2">1</text>
<line x1="293.9" y1="469.6" x2="276.0" y2="484.0" stroke="#222" stroke-width="0.94" />
<circle cx="297.0" cy="467.1" r="4.0" fill="#fff" stroke="#222" stroke-width="1"/>
<text x="297.0" y="469.6" font-size="7" text-anchor="middle" fill="#222" textLength="6.6" lengthAdjust="spacingAndGlyphs">13</text>
<line x1="293.6" y1="546.4" x2="283.0" y2="553.0" stroke="#222" stroke-width="0.94" />
<circle cx="297.0" cy="544.3" r="4.0" fill="#fff" stroke="#222" stroke-width="1"/>
<text x="297.0" y="546.8" font-size="7" text-anchor="middle" fill="#222" textLength="6.6" lengthAdjust="spacingAndGlyphs">14</text>
<rect x="270.5" y="613.5" width="10.0" height="8.0" rx="0" fill="#333" stroke="#222" stroke-width="0.75"/>
<path d="M270.3 615.6 H280 M270.3 618.2 H280" fill="none" stroke="#bbb" stroke-width="0.62" />
<g transform="translate(275.2 636.8) rotate(180)"><rect x="-22" y="-2.6" width="6" height="5" fill="#fff" stroke="#222" stroke-width=".8"/>
  <rect x="16" y="-2.6" width="6" height="5" fill="#fff" stroke="#222" stroke-width=".8"/>
  <rect x="-16" y="-13" width="32" height="26" rx="2" fill="#fff" stroke="#222" stroke-width="1.2"/>
  <rect x="-13.6" y="-10.8" width="27.2" height="21.6" rx="1" fill="none" stroke="#222" stroke-width=".6"/>
  <rect x="-11.4" y="-9.2" width="22.8" height="18.4" fill="none" stroke="#222" stroke-width="1.1"/>
  <rect x="-5.9" y="-2.8" width="11.8" height="5.3" fill="#fff" stroke="#222" stroke-width="1"/>
  <line x1="-6.5" y1="6.3" x2="9" y2="6.3" stroke="#222" stroke-width="1.2" stroke-dasharray="1.6 .5"/>
  <rect x="-1.6" y="-13" width="3.2" height="3" fill="#222"/>
  <rect x="-1.6" y="9.4" width="3.2" height="3.6" fill="#222"/>
  <rect x="-17" y="-2.2" width="2.4" height="4.2" fill="#222"/>
  <rect x="14.6" y="-2.2" width="2.4" height="4.2" fill="#222"/></g>
<line x1="262.0" y1="650.4" x2="288.5" y2="650.4" stroke="#222" stroke-width="2.0" />
<line x1="300.0" y1="625.4" x2="291.0" y2="632.5" stroke="#222" stroke-width="0.94" />
<circle cx="303.1" cy="622.9" r="4.0" fill="#fff" stroke="#222" stroke-width="1"/>
<text x="303.1" y="625.6" font-size="7.6" text-anchor="middle" fill="#222" stroke="#222" stroke-width=".2">4</text>
<text x="141.7" y="163.2" font-size="10.2" text-anchor="start" fill="#262626" >吸顶式</text>
<text x="177.0" y="163.2" font-size="9.8" text-anchor="start" fill="#262626" >(x)</text>
<text x="332.2" y="163.2" font-size="10.2" text-anchor="start" fill="#262626" >吊杆式</text>
<text x="367.0" y="163.2" font-size="9.8" text-anchor="start" fill="#262626" >(g)</text>
<text x="156.7" y="330.4" font-size="10.2" text-anchor="start" fill="#262626" >壁式安装</text>
<text x="202.0" y="330.4" font-size="10.7" text-anchor="start" fill="#262626" >30°</text>
<text x="225.0" y="330.4" font-size="10.7" text-anchor="start" fill="#262626" >(b1)</text>
<text x="446.7" y="330.6" font-size="10.2" text-anchor="start" fill="#262626" >壁式安装</text>
<text x="492.0" y="330.6" font-size="10.7" text-anchor="start" fill="#262626" >90°</text>
<text x="515.0" y="330.6" font-size="10.7" text-anchor="start" fill="#262626" >(b2)</text></svg>
<table class="dim"><tr class="h"><th class="m">型号</th><th>A</th><th>B</th><th>C</th><th>D</th><th>E</th><th>F</th><th>G</th><th>H</th><th><b>I</b></th></tr><tr><td class="m">BCd200</td><td>427</td><td>532</td><td>703</td><td>808</td><td>280</td><td>647</td><td>754</td><td>600</td><td>440</td></tr><tr class="g"><td class="m">BCd200–D</td><td>432</td><td>537</td><td>708</td><td>813</td><td>288</td><td>650</td><td>757</td><td>605</td><td>440</td></tr><tr><td class="m">BCd200–X</td><td>457</td><td>562</td><td>733</td><td>838</td><td>310</td><td>705</td><td>810</td><td>630</td><td>440</td></tr><tr class="g"><td class="m">BCd250</td><td>517</td><td>622</td><td>793</td><td>898</td><td>350</td><td>750</td><td>855</td><td>690</td><td>440</td></tr></table>
<table class="parts"><tr class="h"><th class="c1">序号</th><th class="c2 nm">名&#12288;称</th><th class="c3">备注</th><th class="c4">序号</th><th class="c5 nm">名&#12288;称</th><th class="c6">备注</th></tr><tr><td class="n">1</td><td class="t">灯具</td><td class="r"></td><td class="n c4">10</td><td class="t rt">膨胀螺钉&nbsp; M6</td><td class="r"></td></tr><tr class="g"><td class="n">2</td><td class="t">防爆活接头 BHJ–G3/4C</td><td class="r"></td><td class="n c4">11</td><td class="t rt">弯管 90 °&nbsp;&nbsp;&nbsp;G3/4<span class="x">×</span>500mm</td><td class="r"></td></tr><tr><td class="n">3</td><td class="t">防爆接线盒 AH–G3/4 二吊 (IIC/tD)</td><td class="r">不注不配</td><td class="n c4">12</td><td class="t rt">法兰式灯杆 G1<span class="fr"><sup>1</sup>/<sub>4</sub></span></td><td class="r"></td></tr><tr class="g"><td class="n">4</td><td class="t">防爆镇流器 BdH( Ⅱ B/tD)</td><td class="r">不注不配</td><td class="n c4">13</td><td class="t rt">护栏式灯杆 G1<span class="fr"><sup>1</sup>/<sub>4</sub></span></td><td class="r"></td></tr><tr><td class="n">5</td><td class="t">防爆活接头 BHJ–G3/4B</td><td class="r"></td><td class="n c4">14</td><td class="t rt">U 型管夹</td><td class="r">用户另配</td></tr><tr class="g"><td class="n">6</td><td class="t">直管 G3/4<span class="x">×</span>300mm</td><td class="r"></td><td class="n c4">15</td><td class="t rt">防爆接线盒 AH–G3/4 三平 (IIC/tD)</td><td class="r">不注不配</td></tr><tr><td class="n">7</td><td class="t">弯管 150 °&nbsp;&nbsp;&nbsp;G3/4<span class="x">×</span>300mm</td><td class="r"></td><td class="n c4"></td><td class="t rt"></td><td class="r"></td></tr><tr class="g"><td class="n">8</td><td class="t">CC 型索具螺旋扣 M6</td><td class="r"></td><td class="n c4"></td><td class="t rt"></td><td class="r"></td></tr><tr><td class="n">9</td><td class="t">链条&nbsp; <span class="ph">Φ</span>3.5<span class="x">×</span>450</td><td class="r"></td><td class="n c4"></td><td class="t rt"></td><td class="r"></td></tr></table>
</div></body></html>
